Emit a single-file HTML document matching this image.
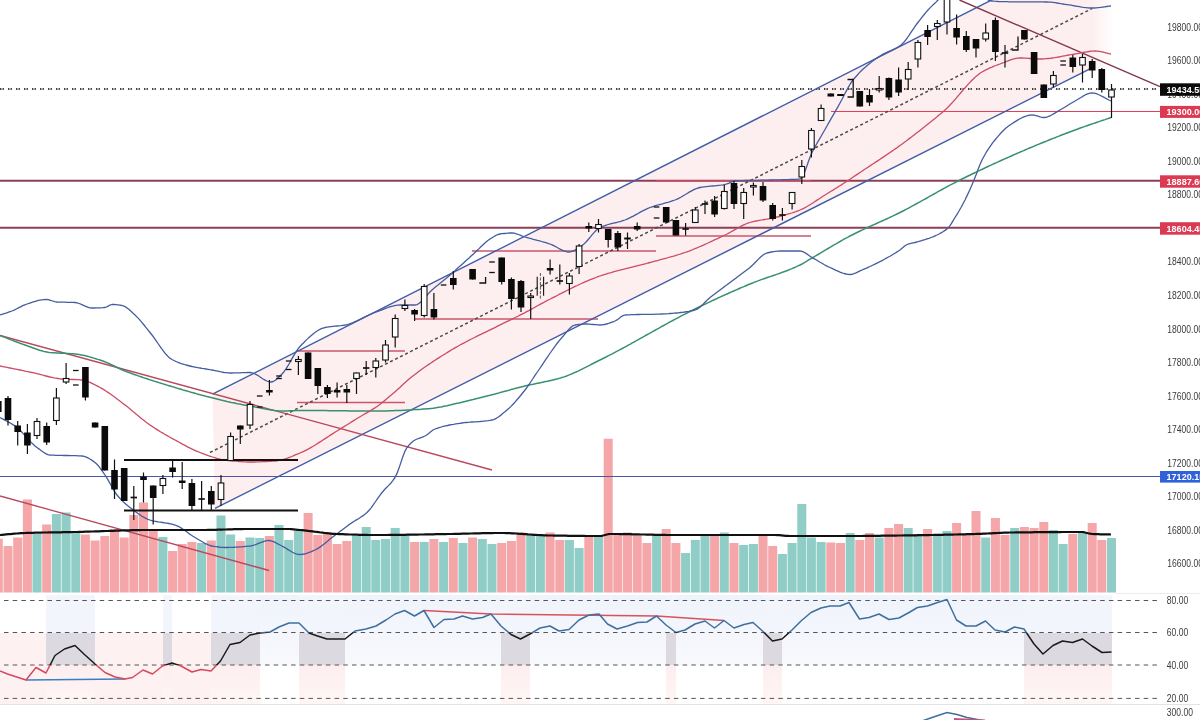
<!DOCTYPE html>
<html lang="en"><head><meta charset="utf-8"><title>Nifty chart</title>
<style>
html,body{margin:0;padding:0;background:#fff;}
body{width:1200px;height:720px;overflow:hidden;font-family:"Liberation Sans",sans-serif;}
svg{display:block;filter:blur(0.55px);}
text{font-family:"Liberation Sans",sans-serif;}
.ax{font-size:10px;fill:#3a3a3a;}
.bx{font-size:9.5px;fill:#fff;font-weight:bold;}
</style></head><body>
<svg width="1200" height="720" viewBox="0 0 1200 720">
<rect width="1200" height="720" fill="#fff"/>
<polygon points="212.5,394.2 1092,-50.8 1092,67.9 215,508.4" fill="#fdefef"/>
<defs><linearGradient id="gf" x1="0" y1="0" x2="1" y2="0"><stop offset="0" stop-color="#fdefef"/><stop offset="1" stop-color="#fdefef" stop-opacity="0"/></linearGradient></defs>
<polygon points="1092,-10 1114,-10 1114,67.8 1092,67.9" fill="url(#gf)"/>
<defs><linearGradient id="gb" x1="0" y1="0" x2="0" y2="1"><stop offset="0" stop-color="#eff3fb"/><stop offset="1" stop-color="#f8f9fd"/></linearGradient><linearGradient id="gp" x1="0" y1="0" x2="0" y2="1"><stop offset="0" stop-color="#fdeeee"/><stop offset="1" stop-color="#fef6f5"/></linearGradient></defs>
<rect x="0.0" y="632.5" width="46.0" height="71.5" fill="#fdf2f1" shape-rendering="crispEdges"/>
<rect x="46.0" y="595" width="49.0" height="37.5" fill="#f3f5fc" shape-rendering="crispEdges"/>
<rect x="46.0" y="632.5" width="49.0" height="32.5" fill="#dcd9e1" shape-rendering="crispEdges"/>
<rect x="46.0" y="665" width="49.0" height="39" fill="url(#gp)" shape-rendering="crispEdges"/>
<rect x="95.0" y="632.5" width="67.5" height="71.5" fill="#fdf2f1" shape-rendering="crispEdges"/>
<rect x="162.5" y="595" width="9.5" height="37.5" fill="#f3f5fc" shape-rendering="crispEdges"/>
<rect x="162.5" y="632.5" width="9.5" height="32.5" fill="#dcd9e1" shape-rendering="crispEdges"/>
<rect x="162.5" y="665" width="9.5" height="39" fill="url(#gp)" shape-rendering="crispEdges"/>
<rect x="172.0" y="632.5" width="39.0" height="71.5" fill="#fdf2f1" shape-rendering="crispEdges"/>
<rect x="211.0" y="595" width="49.0" height="37.5" fill="#f3f5fc" shape-rendering="crispEdges"/>
<rect x="211.0" y="632.5" width="49.0" height="32.5" fill="#dcd9e1" shape-rendering="crispEdges"/>
<rect x="211.0" y="665" width="49.0" height="39" fill="url(#gp)" shape-rendering="crispEdges"/>
<rect x="260.0" y="595" width="39.0" height="70" fill="url(#gb)" shape-rendering="crispEdges"/>
<rect x="299.0" y="595" width="46.0" height="37.5" fill="#f3f5fc" shape-rendering="crispEdges"/>
<rect x="299.0" y="632.5" width="46.0" height="32.5" fill="#dcd9e1" shape-rendering="crispEdges"/>
<rect x="299.0" y="665" width="46.0" height="39" fill="url(#gp)" shape-rendering="crispEdges"/>
<rect x="345.0" y="595" width="156.0" height="70" fill="url(#gb)" shape-rendering="crispEdges"/>
<rect x="501.0" y="595" width="29.0" height="37.5" fill="#f3f5fc" shape-rendering="crispEdges"/>
<rect x="501.0" y="632.5" width="29.0" height="32.5" fill="#dcd9e1" shape-rendering="crispEdges"/>
<rect x="501.0" y="665" width="29.0" height="39" fill="url(#gp)" shape-rendering="crispEdges"/>
<rect x="530.0" y="595" width="136.0" height="70" fill="url(#gb)" shape-rendering="crispEdges"/>
<rect x="666.0" y="595" width="10.0" height="37.5" fill="#f3f5fc" shape-rendering="crispEdges"/>
<rect x="666.0" y="632.5" width="10.0" height="32.5" fill="#dcd9e1" shape-rendering="crispEdges"/>
<rect x="666.0" y="665" width="10.0" height="39" fill="url(#gp)" shape-rendering="crispEdges"/>
<rect x="676.0" y="595" width="86.5" height="70" fill="url(#gb)" shape-rendering="crispEdges"/>
<rect x="762.5" y="595" width="19.5" height="37.5" fill="#f3f5fc" shape-rendering="crispEdges"/>
<rect x="762.5" y="632.5" width="19.5" height="32.5" fill="#dcd9e1" shape-rendering="crispEdges"/>
<rect x="762.5" y="665" width="19.5" height="39" fill="url(#gp)" shape-rendering="crispEdges"/>
<rect x="782.0" y="595" width="242.0" height="70" fill="url(#gb)" shape-rendering="crispEdges"/>
<rect x="1024.0" y="595" width="87.5" height="37.5" fill="#f3f5fc" shape-rendering="crispEdges"/>
<rect x="1024.0" y="632.5" width="87.5" height="32.5" fill="#dcd9e1" shape-rendering="crispEdges"/>
<rect x="1024.0" y="665" width="87.5" height="39" fill="url(#gp)" shape-rendering="crispEdges"/>
<rect x="-6.2" y="538.75" width="9" height="53.8" fill="#f4a6a8"/>
<rect x="3.5" y="546" width="9" height="46.5" fill="#f4a6a8"/>
<rect x="13.2" y="537.5" width="9" height="55.0" fill="#f4a6a8"/>
<rect x="22.9" y="499.5" width="9" height="93.0" fill="#f4a6a8"/>
<rect x="32.5" y="534" width="9" height="58.5" fill="#8fcdc6"/>
<rect x="42.2" y="524.5" width="9" height="68.0" fill="#f4a6a8"/>
<rect x="51.9" y="514" width="9" height="78.5" fill="#8fcdc6"/>
<rect x="61.6" y="512.5" width="9" height="80.0" fill="#8fcdc6"/>
<rect x="71.3" y="533" width="9" height="59.5" fill="#8fcdc6"/>
<rect x="80.9" y="534.5" width="9" height="58.0" fill="#f4a6a8"/>
<rect x="90.6" y="540.5" width="9" height="52.0" fill="#f4a6a8"/>
<rect x="100.3" y="536" width="9" height="56.5" fill="#f4a6a8"/>
<rect x="110.0" y="529" width="9" height="63.5" fill="#f4a6a8"/>
<rect x="119.7" y="537.5" width="9" height="55.0" fill="#f4a6a8"/>
<rect x="129.3" y="515" width="9" height="77.5" fill="#f4a6a8"/>
<rect x="139.0" y="502.5" width="9" height="90.0" fill="#f4a6a8"/>
<rect x="148.7" y="531" width="9" height="61.5" fill="#f4a6a8"/>
<rect x="158.4" y="537" width="9" height="55.5" fill="#8fcdc6"/>
<rect x="168.1" y="551" width="9" height="41.5" fill="#f4a6a8"/>
<rect x="177.7" y="544" width="9" height="48.5" fill="#f4a6a8"/>
<rect x="187.4" y="542" width="9" height="50.5" fill="#f4a6a8"/>
<rect x="197.1" y="543" width="9" height="49.5" fill="#8fcdc6"/>
<rect x="206.8" y="540.5" width="9" height="52.0" fill="#f4a6a8"/>
<rect x="216.5" y="515.5" width="9" height="77.0" fill="#8fcdc6"/>
<rect x="226.1" y="534.5" width="9" height="58.0" fill="#8fcdc6"/>
<rect x="235.8" y="541" width="9" height="51.5" fill="#f4a6a8"/>
<rect x="245.5" y="537.5" width="9" height="55.0" fill="#8fcdc6"/>
<rect x="255.2" y="538" width="9" height="54.5" fill="#8fcdc6"/>
<rect x="264.9" y="536" width="9" height="56.5" fill="#f4a6a8"/>
<rect x="274.5" y="525" width="9" height="67.5" fill="#8fcdc6"/>
<rect x="284.2" y="540" width="9" height="52.5" fill="#8fcdc6"/>
<rect x="293.9" y="531" width="9" height="61.5" fill="#8fcdc6"/>
<rect x="303.6" y="513" width="9" height="79.5" fill="#f4a6a8"/>
<rect x="313.3" y="535" width="9" height="57.5" fill="#f4a6a8"/>
<rect x="322.9" y="532.5" width="9" height="60.0" fill="#f4a6a8"/>
<rect x="332.6" y="544" width="9" height="48.5" fill="#f4a6a8"/>
<rect x="342.3" y="541" width="9" height="51.5" fill="#f4a6a8"/>
<rect x="352.0" y="536" width="9" height="56.5" fill="#8fcdc6"/>
<rect x="361.7" y="527" width="9" height="65.5" fill="#8fcdc6"/>
<rect x="371.3" y="540" width="9" height="52.5" fill="#8fcdc6"/>
<rect x="381.0" y="539" width="9" height="53.5" fill="#8fcdc6"/>
<rect x="390.7" y="528" width="9" height="64.5" fill="#8fcdc6"/>
<rect x="400.4" y="535" width="9" height="57.5" fill="#8fcdc6"/>
<rect x="410.1" y="542" width="9" height="50.5" fill="#f4a6a8"/>
<rect x="419.7" y="542" width="9" height="50.5" fill="#8fcdc6"/>
<rect x="429.4" y="539" width="9" height="53.5" fill="#f4a6a8"/>
<rect x="439.1" y="542" width="9" height="50.5" fill="#8fcdc6"/>
<rect x="448.8" y="538" width="9" height="54.5" fill="#f4a6a8"/>
<rect x="458.5" y="543" width="9" height="49.5" fill="#8fcdc6"/>
<rect x="468.1" y="537.5" width="9" height="55.0" fill="#f4a6a8"/>
<rect x="477.8" y="539" width="9" height="53.5" fill="#8fcdc6"/>
<rect x="487.5" y="544" width="9" height="48.5" fill="#8fcdc6"/>
<rect x="497.2" y="543" width="9" height="49.5" fill="#f4a6a8"/>
<rect x="506.9" y="541" width="9" height="51.5" fill="#f4a6a8"/>
<rect x="516.5" y="532.5" width="9" height="60.0" fill="#f4a6a8"/>
<rect x="526.2" y="535" width="9" height="57.5" fill="#8fcdc6"/>
<rect x="535.9" y="535.5" width="9" height="57.0" fill="#8fcdc6"/>
<rect x="545.6" y="532.5" width="9" height="60.0" fill="#f4a6a8"/>
<rect x="555.3" y="540" width="9" height="52.5" fill="#f4a6a8"/>
<rect x="564.9" y="540" width="9" height="52.5" fill="#8fcdc6"/>
<rect x="574.6" y="548" width="9" height="44.5" fill="#8fcdc6"/>
<rect x="584.3" y="535" width="9" height="57.5" fill="#f4a6a8"/>
<rect x="594.0" y="535.5" width="9" height="57.0" fill="#8fcdc6"/>
<rect x="603.7" y="438.75" width="9" height="153.8" fill="#f4a6a8"/>
<rect x="613.3" y="535" width="9" height="57.5" fill="#f4a6a8"/>
<rect x="623.0" y="532.5" width="9" height="60.0" fill="#f4a6a8"/>
<rect x="632.7" y="535.5" width="9" height="57.0" fill="#f4a6a8"/>
<rect x="642.4" y="543" width="9" height="49.5" fill="#f4a6a8"/>
<rect x="652.1" y="535" width="9" height="57.5" fill="#8fcdc6"/>
<rect x="661.7" y="529" width="9" height="63.5" fill="#f4a6a8"/>
<rect x="671.4" y="543" width="9" height="49.5" fill="#f4a6a8"/>
<rect x="681.1" y="553" width="9" height="39.5" fill="#8fcdc6"/>
<rect x="690.8" y="540" width="9" height="52.5" fill="#8fcdc6"/>
<rect x="700.5" y="536" width="9" height="56.5" fill="#8fcdc6"/>
<rect x="710.1" y="536" width="9" height="56.5" fill="#f4a6a8"/>
<rect x="719.8" y="532.5" width="9" height="60.0" fill="#8fcdc6"/>
<rect x="729.5" y="543" width="9" height="49.5" fill="#f4a6a8"/>
<rect x="739.2" y="545" width="9" height="47.5" fill="#8fcdc6"/>
<rect x="748.9" y="544" width="9" height="48.5" fill="#8fcdc6"/>
<rect x="758.5" y="536" width="9" height="56.5" fill="#f4a6a8"/>
<rect x="768.2" y="546" width="9" height="46.5" fill="#f4a6a8"/>
<rect x="777.9" y="554" width="9" height="38.5" fill="#8fcdc6"/>
<rect x="787.6" y="543" width="9" height="49.5" fill="#8fcdc6"/>
<rect x="797.3" y="504" width="9" height="88.5" fill="#8fcdc6"/>
<rect x="806.9" y="537.5" width="9" height="55.0" fill="#8fcdc6"/>
<rect x="816.6" y="542" width="9" height="50.5" fill="#8fcdc6"/>
<rect x="826.3" y="542.5" width="9" height="50.0" fill="#f4a6a8"/>
<rect x="836.0" y="543" width="9" height="49.5" fill="#f4a6a8"/>
<rect x="845.7" y="533" width="9" height="59.5" fill="#8fcdc6"/>
<rect x="855.3" y="540" width="9" height="52.5" fill="#f4a6a8"/>
<rect x="865.0" y="533" width="9" height="59.5" fill="#f4a6a8"/>
<rect x="874.7" y="537.5" width="9" height="55.0" fill="#8fcdc6"/>
<rect x="884.4" y="528" width="9" height="64.5" fill="#f4a6a8"/>
<rect x="894.1" y="524" width="9" height="68.5" fill="#f4a6a8"/>
<rect x="903.7" y="528" width="9" height="64.5" fill="#8fcdc6"/>
<rect x="913.4" y="534" width="9" height="58.5" fill="#8fcdc6"/>
<rect x="923.1" y="529" width="9" height="63.5" fill="#f4a6a8"/>
<rect x="932.8" y="535.5" width="9" height="57.0" fill="#8fcdc6"/>
<rect x="942.5" y="531" width="9" height="61.5" fill="#8fcdc6"/>
<rect x="952.1" y="523" width="9" height="69.5" fill="#f4a6a8"/>
<rect x="961.8" y="534" width="9" height="58.5" fill="#f4a6a8"/>
<rect x="971.5" y="511" width="9" height="81.5" fill="#f4a6a8"/>
<rect x="981.2" y="537.5" width="9" height="55.0" fill="#8fcdc6"/>
<rect x="990.9" y="518" width="9" height="74.5" fill="#f4a6a8"/>
<rect x="1000.5" y="535" width="9" height="57.5" fill="#f4a6a8"/>
<rect x="1010.2" y="528" width="9" height="64.5" fill="#8fcdc6"/>
<rect x="1019.9" y="527" width="9" height="65.5" fill="#f4a6a8"/>
<rect x="1029.6" y="528" width="9" height="64.5" fill="#f4a6a8"/>
<rect x="1039.3" y="522" width="9" height="70.5" fill="#f4a6a8"/>
<rect x="1048.9" y="530" width="9" height="62.5" fill="#8fcdc6"/>
<rect x="1058.6" y="544" width="9" height="48.5" fill="#8fcdc6"/>
<rect x="1068.3" y="534" width="9" height="58.5" fill="#f4a6a8"/>
<rect x="1078.0" y="532.5" width="9" height="60.0" fill="#8fcdc6"/>
<rect x="1087.7" y="523" width="9" height="69.5" fill="#f4a6a8"/>
<rect x="1097.3" y="540" width="9" height="52.5" fill="#f4a6a8"/>
<rect x="1107.0" y="538" width="9" height="54.5" fill="#8fcdc6"/>
<line x1="0" y1="89" x2="1160" y2="89" stroke="#000" stroke-width="1.3" stroke-dasharray="1.4 1.1 1.4 4.1"/>
<line x1="0" y1="180.8" x2="1160" y2="180.8" stroke="#8d3f58" stroke-width="2"/>
<line x1="0" y1="227.7" x2="1160" y2="227.7" stroke="#8d3f58" stroke-width="2"/>
<line x1="0" y1="476.5" x2="1160" y2="476.5" stroke="#4a55a8" stroke-width="1.2"/>
<line x1="831" y1="111.5" x2="1160" y2="111.5" stroke="#e0405a" stroke-width="1.2"/>
<line x1="297" y1="351" x2="405" y2="351" stroke="#c9566c" stroke-width="1.4"/>
<line x1="297" y1="402.5" x2="405" y2="402.5" stroke="#c9566c" stroke-width="1.4"/>
<line x1="415" y1="319" x2="598" y2="319" stroke="#c9566c" stroke-width="1.4"/>
<line x1="472" y1="251" x2="656" y2="251" stroke="#c9566c" stroke-width="1.4"/>
<line x1="656" y1="236" x2="811" y2="236" stroke="#c9566c" stroke-width="1.4"/>
<line x1="656" y1="181" x2="811" y2="181" stroke="#c9566c" stroke-width="1.4"/>
<line x1="212.5" y1="394.2" x2="1092" y2="-50.8" stroke="#3f5ca6" stroke-width="1.4"/>
<line x1="215" y1="508.4" x2="1092" y2="67.9" stroke="#3f5ca6" stroke-width="1.4"/>
<line x1="210" y1="452.5" x2="1092" y2="8.6" stroke="#4a4a4a" stroke-width="1.5" stroke-dasharray="3 2.6"/>
<line x1="0" y1="335.5" x2="492" y2="470" stroke="#b9475e" stroke-width="1.4"/>
<line x1="0" y1="496" x2="269" y2="570.5" stroke="#b9475e" stroke-width="1.3"/>
<line x1="959.5" y1="0" x2="1160" y2="86.7" stroke="#84364a" stroke-width="1.4"/>
<polyline points="0.0,335.5 2.1,336.3 4.2,337.1 6.2,337.9 8.3,338.7 10.4,339.6 12.5,340.4 14.6,341.2 16.7,342.0 18.8,342.8 20.8,343.5 22.9,344.3 25.0,345.0 27.1,345.7 29.2,346.5 31.2,347.2 33.3,348.0 35.4,348.8 37.5,349.5 39.6,350.2 41.7,350.8 43.8,351.4 45.8,351.8 47.9,352.2 50.0,352.5 52.1,352.7 54.2,352.8 56.2,353.0 58.3,353.1 60.4,353.2 62.5,353.3 64.6,353.3 66.7,353.4 68.8,353.5 70.8,353.7 72.9,353.8 75.0,354.0 77.1,354.2 79.2,354.5 81.2,354.9 83.3,355.3 85.4,355.8 87.5,356.3 89.6,356.9 91.7,357.5 93.8,358.1 95.8,358.7 97.9,359.4 100.0,360.0 102.1,360.7 104.2,361.5 106.2,362.4 108.3,363.3 110.4,364.3 112.5,365.3 114.6,366.3 116.7,367.3 118.8,368.3 120.8,369.3 122.9,370.2 125.0,371.0 127.0,371.8 129.0,372.5 131.0,373.2 133.0,374.0 135.0,374.7 137.0,375.4 139.0,376.1 141.0,376.8 143.0,377.5 145.0,378.1 147.0,378.8 149.0,379.5 151.0,380.1 153.0,380.8 155.0,381.4 157.0,382.0 159.0,382.6 161.0,383.3 163.0,383.9 165.0,384.5 167.0,385.1 169.0,385.7 171.0,386.3 173.0,386.9 175.0,387.5 177.0,388.1 179.0,388.7 181.0,389.3 183.0,389.9 185.0,390.4 187.0,391.0 189.0,391.6 191.0,392.2 193.0,392.7 195.0,393.3 197.0,393.9 199.0,394.4 201.0,395.0 203.0,395.5 205.0,396.0 207.0,396.6 209.0,397.1 211.0,397.6 213.0,398.1 215.0,398.6 217.0,399.1 219.0,399.6 221.0,400.1 223.0,400.5 225.0,401.0 227.1,401.5 229.2,401.9 231.2,402.4 233.3,402.8 235.4,403.2 237.5,403.7 239.6,404.1 241.7,404.5 243.8,404.9 245.8,405.3 247.9,405.6 250.0,406.0 252.1,406.4 254.1,406.8 256.2,407.2 258.2,407.6 260.3,408.0 262.4,408.4 264.4,408.8 266.5,409.2 268.6,409.6 270.6,409.9 272.7,410.2 274.8,410.5 276.8,410.7 278.9,410.9 280.9,411.0 283.0,411.0 285.1,411.0 287.2,410.9 289.4,410.8 291.5,410.8 293.6,410.7 295.8,410.6 297.9,410.5 300.0,410.5 302.0,410.5 304.1,410.5 306.1,410.5 308.1,410.5 310.1,410.5 312.2,410.5 314.2,410.5 316.2,410.6 318.2,410.6 320.3,410.6 322.3,410.6 324.3,410.6 326.4,410.6 328.4,410.7 330.4,410.7 332.4,410.7 334.5,410.7 336.5,410.7 338.5,410.8 340.5,410.8 342.6,410.8 344.6,410.8 346.6,410.8 348.6,410.9 350.7,410.9 352.7,410.9 354.7,410.9 356.8,410.9 358.8,410.9 360.8,411.0 362.8,411.0 364.9,411.0 366.9,411.0 368.9,411.0 370.9,411.0 373.0,411.0 375.0,411.0 377.0,411.0 379.0,411.0 381.0,411.0 383.0,410.9 385.0,410.9 387.0,410.9 389.0,410.8 391.0,410.7 393.0,410.7 395.0,410.6 397.0,410.5 399.0,410.5 401.0,410.4 403.0,410.3 405.0,410.2 407.0,410.1 409.0,410.0 411.0,409.9 413.0,409.8 415.0,409.6 417.0,409.5 419.0,409.4 421.0,409.3 423.0,409.1 425.0,409.0 427.0,408.8 429.0,408.7 431.0,408.4 433.0,408.2 435.0,407.9 437.0,407.6 439.0,407.2 441.0,406.9 443.0,406.5 445.0,406.1 447.0,405.7 449.0,405.2 451.0,404.8 453.0,404.3 455.0,403.8 457.0,403.3 459.0,402.9 461.0,402.4 463.0,401.9 465.0,401.4 467.0,400.9 469.0,400.4 471.0,399.9 473.0,399.5 475.0,399.0 477.0,398.5 479.0,398.1 481.0,397.6 483.0,397.1 485.0,396.6 487.0,396.1 489.0,395.6 491.0,395.0 493.0,394.5 495.0,394.0 497.0,393.4 499.0,392.9 501.0,392.3 503.0,391.8 505.0,391.2 507.0,390.7 509.0,390.2 511.0,389.6 513.0,389.1 515.0,388.5 517.0,388.0 519.0,387.5 521.0,387.0 523.0,386.5 525.0,386.0 527.1,385.5 529.1,385.0 531.2,384.6 533.2,384.2 535.3,383.7 537.3,383.3 539.4,382.9 541.4,382.5 543.5,382.0 545.6,381.6 547.6,381.2 549.7,380.7 551.7,380.2 553.8,379.7 555.8,379.2 557.9,378.7 559.9,378.1 562.0,377.5 564.0,376.9 566.0,376.2 568.0,375.4 570.0,374.6 572.0,373.8 574.0,372.9 576.0,372.0 578.0,371.1 580.0,370.1 582.0,369.1 584.0,368.1 586.0,367.1 588.0,366.1 590.0,365.1 592.0,364.0 594.0,363.0 596.0,362.0 598.0,361.0 600.0,360.0 602.0,359.0 604.0,358.0 606.1,357.0 608.1,355.9 610.1,354.9 612.1,353.9 614.1,352.8 616.2,351.7 618.2,350.7 620.2,349.6 622.2,348.5 624.3,347.4 626.3,346.3 628.3,345.2 630.3,344.1 632.3,342.9 634.4,341.8 636.4,340.7 638.4,339.6 640.4,338.4 642.4,337.3 644.5,336.2 646.5,335.0 648.5,333.9 650.5,332.8 652.6,331.6 654.6,330.5 656.6,329.4 658.6,328.3 660.6,327.1 662.7,326.0 664.7,324.9 666.7,323.8 668.7,322.7 670.7,321.6 672.8,320.5 674.8,319.4 676.8,318.3 678.8,317.3 680.9,316.2 682.9,315.1 684.9,314.1 686.9,313.0 688.9,312.0 691.0,311.0 693.0,310.0 695.0,309.0 697.0,308.0 699.1,307.0 701.1,306.0 703.1,305.1 705.2,304.1 707.2,303.1 709.3,302.1 711.3,301.2 713.3,300.2 715.4,299.3 717.4,298.3 719.4,297.4 721.5,296.4 723.5,295.5 725.6,294.6 727.6,293.7 729.6,292.8 731.7,291.9 733.7,291.0 735.7,290.1 737.8,289.2 739.8,288.3 741.9,287.4 743.9,286.6 745.9,285.7 748.0,284.8 750.0,284.0 752.0,283.2 754.0,282.4 756.0,281.6 758.0,280.9 760.0,280.1 762.0,279.4 764.0,278.7 766.0,278.0 768.0,277.3 770.0,276.6 772.0,276.0 774.0,275.3 776.0,274.6 778.0,273.9 780.0,273.2 782.0,272.4 784.0,271.7 786.0,271.0 788.0,270.2 790.0,269.4 792.0,268.6 794.0,267.7 796.0,266.9 798.0,265.9 800.0,265.0 802.0,264.0 804.0,262.8 806.0,261.7 808.0,260.4 810.0,259.2 812.0,258.0 814.0,256.8 816.0,255.7 818.0,254.5 820.0,253.3 822.0,252.1 824.0,250.9 826.0,249.7 828.0,248.5 830.0,247.3 832.0,246.1 834.0,244.9 836.0,243.8 838.0,242.6 840.0,241.5 842.0,240.3 844.0,239.2 846.0,238.1 848.0,237.1 850.0,236.0 852.0,235.0 854.0,234.0 856.0,233.0 858.0,232.0 860.0,231.0 862.0,230.1 864.0,229.1 866.0,228.2 868.0,227.3 870.0,226.4 872.0,225.5 874.0,224.6 876.0,223.7 878.0,222.8 880.0,221.9 882.0,221.0 884.0,220.1 886.0,219.2 888.0,218.3 890.0,217.3 892.0,216.4 894.0,215.4 896.0,214.5 898.0,213.5 900.0,212.5 902.0,211.5 904.0,210.5 906.0,209.4 908.0,208.4 910.0,207.3 912.0,206.2 914.0,205.1 916.0,204.0 918.0,202.9 920.0,201.8 922.0,200.7 924.0,199.6 926.0,198.5 928.0,197.3 930.0,196.2 932.0,195.1 934.0,194.0 936.0,192.9 938.0,191.7 940.0,190.6 942.0,189.5 944.0,188.4 946.0,187.3 948.0,186.2 950.0,185.2 952.0,184.1 954.0,183.1 956.0,182.0 958.0,181.0 960.0,180.0 962.0,179.0 964.1,178.0 966.1,177.0 968.1,176.0 970.2,175.0 972.2,174.0 974.2,173.0 976.2,172.1 978.3,171.1 980.3,170.1 982.3,169.2 984.4,168.2 986.4,167.2 988.4,166.3 990.5,165.4 992.5,164.4 994.5,163.5 996.6,162.6 998.6,161.6 1000.6,160.7 1002.7,159.8 1004.7,158.9 1006.7,158.0 1008.8,157.1 1010.8,156.2 1012.8,155.3 1014.8,154.4 1016.9,153.5 1018.9,152.6 1020.9,151.7 1023.0,150.9 1025.0,150.0 1027.0,149.1 1029.0,148.3 1031.0,147.5 1033.0,146.6 1035.0,145.8 1037.0,144.9 1039.0,144.1 1041.0,143.3 1043.0,142.5 1045.0,141.7 1047.0,140.9 1049.0,140.0 1051.0,139.2 1053.0,138.4 1055.0,137.7 1057.0,136.9 1059.0,136.1 1061.0,135.3 1063.0,134.5 1065.0,133.8 1067.0,133.0 1069.0,132.2 1071.0,131.5 1073.0,130.7 1075.0,130.0 1077.0,129.3 1079.0,128.5 1081.0,127.8 1083.0,127.1 1085.0,126.4 1087.0,125.7 1089.0,125.0 1091.0,124.3 1093.0,123.6 1095.0,123.0 1097.0,122.3 1099.0,121.6 1101.0,120.9 1103.0,120.2 1105.0,119.6 1107.0,118.9 1109.0,118.2 1111.0,117.5" fill="none" stroke="#37906f" stroke-width="1.5" stroke-linejoin="round"/>
<polyline points="0.0,366.0 2.0,366.4 4.0,366.8 6.0,367.2 8.0,367.6 10.0,368.0 12.0,368.4 14.0,368.8 16.0,369.2 18.0,369.6 20.0,370.0 22.0,370.4 24.0,370.8 26.0,371.3 28.0,371.7 30.0,372.1 32.0,372.5 34.0,372.9 36.0,373.4 38.0,373.9 40.0,374.4 42.0,374.9 44.0,375.5 46.0,376.0 48.0,376.5 50.0,377.0 52.0,377.4 54.0,377.9 56.0,378.2 58.0,378.5 60.0,378.8 62.0,379.0 64.0,379.1 66.0,379.2 68.0,379.3 70.0,379.4 72.0,379.5 74.0,379.5 76.0,379.6 78.0,379.7 80.0,379.8 82.0,380.0 84.0,380.3 86.0,380.8 88.0,381.5 90.0,382.3 92.0,383.3 94.0,384.3 96.0,385.4 98.0,386.4 100.0,387.5 102.1,388.6 104.2,389.9 106.2,391.2 108.3,392.6 110.4,394.0 112.5,395.5 114.6,397.1 116.7,398.7 118.8,400.2 120.8,401.8 122.9,403.4 125.0,405.0 127.1,406.6 129.2,408.2 131.2,409.9 133.3,411.7 135.4,413.4 137.5,415.2 139.6,416.9 141.7,418.7 143.8,420.3 145.8,422.0 147.9,423.5 150.0,425.0 152.1,426.4 154.2,427.8 156.2,429.1 158.3,430.4 160.4,431.7 162.5,432.9 164.6,434.2 166.7,435.4 168.8,436.5 170.8,437.7 172.9,438.9 175.0,440.0 177.1,441.1 179.2,442.3 181.2,443.4 183.3,444.6 185.4,445.7 187.5,446.8 189.6,447.8 191.7,448.9 193.8,449.9 195.8,450.8 197.9,451.7 200.0,452.5 202.1,453.3 204.2,454.1 206.2,454.8 208.3,455.6 210.4,456.3 212.5,457.0 214.6,457.7 216.7,458.3 218.8,458.8 220.8,459.3 222.9,459.7 225.0,460.0 227.1,460.3 229.2,460.5 231.2,460.8 233.3,461.0 235.4,461.2 237.5,461.4 239.6,461.6 241.7,461.7 243.8,461.8 245.8,461.9 247.9,462.0 250.0,462.0 252.1,462.0 254.2,462.0 256.2,461.9 258.3,461.9 260.4,461.8 262.5,461.7 264.6,461.6 266.7,461.5 268.8,461.4 270.8,461.3 272.9,461.1 275.0,461.0 277.1,460.8 279.2,460.4 281.2,460.0 283.3,459.4 285.4,458.8 287.5,458.1 289.6,457.3 291.7,456.5 293.8,455.6 295.8,454.7 297.9,453.9 300.0,453.0 302.1,452.1 304.1,451.2 306.2,450.1 308.2,449.1 310.3,447.9 312.3,446.7 314.4,445.5 316.4,444.2 318.5,442.9 320.6,441.6 322.6,440.3 324.7,438.9 326.7,437.6 328.8,436.2 330.8,434.9 332.9,433.6 334.9,432.3 337.0,431.0 339.1,429.7 341.2,428.4 343.3,427.1 345.4,425.8 347.5,424.5 349.5,423.2 351.6,421.9 353.7,420.6 355.8,419.3 357.9,418.0 360.0,416.7 362.1,415.5 364.2,414.2 366.3,413.1 368.4,411.9 370.4,410.7 372.5,409.4 374.6,408.1 376.7,406.7 378.8,405.2 380.9,403.7 382.9,402.0 385.0,400.3 387.1,398.6 389.1,396.8 391.2,395.1 393.3,393.3 395.4,391.5 397.5,389.6 399.6,387.7 401.6,385.7 403.7,383.8 405.8,381.9 407.9,380.1 410.0,378.3 412.1,376.6 414.2,375.0 416.3,373.4 418.4,371.8 420.4,370.3 422.5,368.7 424.6,367.3 426.7,365.8 428.8,364.4 430.9,363.0 432.9,361.6 435.0,360.2 437.1,358.9 439.1,357.6 441.2,356.3 443.3,355.0 445.4,353.7 447.5,352.4 449.6,351.1 451.6,349.8 453.7,348.6 455.8,347.4 457.9,346.2 460.0,345.0 462.1,343.9 464.2,342.8 466.2,341.7 468.3,340.6 470.4,339.5 472.5,338.5 474.6,337.5 476.6,336.4 478.7,335.4 480.8,334.4 482.9,333.4 485.0,332.4 487.1,331.4 489.1,330.4 491.2,329.3 493.3,328.3 495.4,327.3 497.5,326.2 499.6,325.2 501.7,324.2 503.7,323.2 505.8,322.1 507.9,321.1 510.0,320.1 512.1,319.1 514.2,318.0 516.3,317.0 518.4,316.0 520.4,314.9 522.5,313.8 524.6,312.8 526.7,311.7 528.9,310.6 531.0,309.4 533.2,308.2 535.3,307.0 537.5,305.8 539.7,304.6 541.8,303.4 544.0,302.3 546.1,301.1 548.3,300.0 550.4,299.0 552.4,297.9 554.5,296.8 556.6,295.8 558.6,294.7 560.7,293.7 562.8,292.6 564.8,291.6 566.9,290.5 569.0,289.5 571.0,288.5 573.1,287.4 575.2,286.4 577.3,285.5 579.3,284.5 581.4,283.5 583.5,282.6 585.5,281.7 587.6,280.8 589.7,279.9 591.7,279.1 593.8,278.3 595.9,277.5 597.9,276.7 600.0,276.0 602.0,275.3 604.0,274.7 606.0,274.1 608.0,273.4 610.0,272.9 612.0,272.3 614.0,271.7 616.0,271.2 618.0,270.7 620.0,270.1 622.0,269.6 624.0,269.1 626.0,268.6 628.0,268.1 630.0,267.6 632.0,267.1 634.0,266.6 636.0,266.1 638.0,265.6 640.0,265.1 642.0,264.6 644.0,264.1 646.0,263.6 648.0,263.0 650.0,262.5 652.1,261.9 654.1,261.4 656.2,260.8 658.2,260.3 660.3,259.7 662.4,259.2 664.4,258.6 666.5,258.1 668.5,257.5 670.6,256.9 672.6,256.4 674.7,255.8 676.8,255.1 678.8,254.5 680.9,253.9 682.9,253.2 685.0,252.5 687.0,251.8 689.0,251.1 691.0,250.3 693.0,249.5 695.0,248.7 697.0,247.9 699.0,247.0 701.0,246.2 703.0,245.3 705.0,244.4 707.0,243.5 709.0,242.5 711.0,241.6 713.0,240.7 715.0,239.7 717.0,238.8 719.0,237.8 721.0,236.9 723.0,235.9 725.0,235.0 727.1,234.0 729.2,232.9 731.2,231.7 733.3,230.6 735.4,229.4 737.5,228.2 739.6,227.0 741.7,225.9 743.8,224.9 745.8,224.0 747.9,223.2 750.0,222.5 752.1,221.9 754.2,221.4 756.2,221.0 758.3,220.6 760.4,220.2 762.5,219.9 764.6,219.5 766.7,219.2 768.8,218.8 770.8,218.4 772.9,218.0 775.0,217.5 777.1,217.0 779.2,216.5 781.2,216.0 783.3,215.4 785.4,214.8 787.5,214.2 789.6,213.6 791.7,213.0 793.8,212.3 795.8,211.6 797.9,210.8 800.0,210.0 802.1,209.1 804.2,208.1 806.2,207.0 808.3,205.8 810.4,204.5 812.5,203.2 814.6,201.8 816.7,200.4 818.8,199.0 820.8,197.7 822.9,196.3 825.0,195.0 827.0,193.8 829.0,192.5 831.0,191.3 833.0,190.1 835.0,188.8 837.0,187.6 839.0,186.3 841.0,185.1 843.0,183.8 845.0,182.5 847.1,181.1 849.3,179.7 851.4,178.3 853.6,176.8 855.7,175.4 857.9,173.9 860.0,172.5 862.0,171.2 864.0,169.8 866.0,168.5 868.0,167.2 870.0,165.9 872.0,164.5 874.0,163.2 876.0,161.9 878.0,160.6 880.0,159.3 882.0,157.9 884.0,156.6 886.0,155.2 888.0,153.9 890.0,152.5 892.0,151.1 894.0,149.8 896.0,148.4 898.0,146.9 900.0,145.5 902.1,144.0 904.1,142.5 906.2,141.0 908.2,139.4 910.3,137.9 912.4,136.3 914.4,134.7 916.5,133.1 918.6,131.5 920.6,129.9 922.7,128.2 924.8,126.6 926.8,125.0 928.9,123.3 930.9,121.7 933.0,120.0 935.0,118.4 937.0,116.8 939.0,115.1 941.0,113.5 943.0,111.8 945.0,110.0 947.1,108.1 949.1,106.0 951.2,103.8 953.2,101.6 955.3,99.2 957.3,96.8 959.4,94.4 961.4,92.0 963.5,89.6 965.6,87.2 967.6,84.9 969.7,82.6 971.7,80.5 973.8,78.5 975.8,76.6 977.9,74.9 979.9,73.3 982.0,72.0 984.0,70.9 986.0,69.8 988.0,68.8 990.0,67.9 992.0,67.1 994.0,66.2 996.0,65.5 998.0,64.7 1000.0,64.0 1002.0,63.2 1004.0,62.5 1006.0,61.6 1008.0,60.9 1010.0,60.1 1012.0,59.4 1014.0,58.8 1016.0,58.4 1018.0,58.1 1020.0,58.0 1022.0,58.0 1024.0,58.1 1026.0,58.2 1028.0,58.4 1030.0,58.5 1032.0,58.6 1034.0,58.8 1036.0,58.9 1038.0,59.0 1040.0,59.0 1042.1,59.0 1044.1,58.9 1046.2,58.7 1048.2,58.5 1050.3,58.3 1052.4,58.0 1054.4,57.7 1056.5,57.3 1058.5,57.0 1060.6,56.6 1062.6,56.2 1064.7,55.8 1066.8,55.4 1068.8,55.0 1070.9,54.7 1072.9,54.3 1075.0,54.0 1077.0,53.7 1079.0,53.3 1081.0,52.9 1083.0,52.5 1085.0,52.1 1087.0,51.8 1089.0,51.5 1091.0,51.2 1093.0,51.1 1095.0,51.0 1097.0,51.1 1099.0,51.3 1101.0,51.7 1103.0,52.1 1105.0,52.6 1107.0,53.1 1109.0,53.6 1111.0,54.0" fill="none" stroke="#cc4c64" stroke-width="1.3" stroke-linejoin="round"/>
<polyline points="0.0,315.0 2.0,314.3 4.0,313.7 6.0,313.1 8.0,312.4 10.0,311.7 12.0,311.0 14.1,310.1 16.3,309.0 18.4,307.9 20.6,306.8 22.7,305.7 24.9,304.8 27.0,304.0 29.1,303.3 31.2,302.6 33.3,301.9 35.4,301.3 37.6,300.7 39.7,300.2 41.8,299.8 43.9,299.6 46.0,299.5 48.2,299.7 50.4,300.3 52.6,301.0 54.8,301.7 57.0,302.0 59.0,302.1 61.0,302.2 63.0,302.2 65.0,302.2 67.0,302.3 69.0,302.3 71.0,302.3 73.0,302.4 75.0,302.5 77.1,302.8 79.2,303.5 81.4,304.4 83.5,305.4 85.6,306.3 87.8,307.2 89.9,307.8 92.0,308.0 94.2,308.0 96.3,307.9 98.5,307.9 100.7,307.8 102.8,307.7 105.0,307.5 107.3,306.6 109.7,305.2 112.0,304.5 114.0,304.5 116.0,304.7 118.0,304.9 120.0,305.2 122.0,305.5 124.2,306.2 126.3,307.4 128.5,309.1 130.7,311.0 132.8,313.0 135.0,315.0 137.1,317.1 139.3,319.4 141.4,321.9 143.6,324.5 145.7,327.2 147.9,329.9 150.0,332.5 152.0,335.0 154.0,337.7 156.0,340.6 158.0,343.5 160.0,346.4 162.0,349.2 164.0,351.8 166.0,354.3 168.0,356.4 170.0,358.2 172.0,359.5 174.0,360.5 176.0,361.5 178.0,362.3 180.0,363.1 182.0,363.8 184.0,364.4 186.0,365.0 188.0,365.5 190.0,366.0 192.0,366.5 194.0,366.9 196.0,367.3 198.0,367.7 200.0,368.0 202.0,368.4 204.0,368.7 206.0,369.0 208.0,369.3 210.0,369.7 212.0,370.0 214.0,370.4 216.0,370.8 218.0,371.2 220.0,371.7 222.0,372.1 224.0,372.5 226.0,372.7 228.0,372.9 230.0,373.0 232.0,373.0 234.0,372.9 236.0,372.9 238.0,372.8 240.0,372.8 242.0,372.7 244.0,372.6 246.0,372.6 248.0,372.5 250.0,372.5 252.1,372.8 254.2,373.5 256.3,374.6 258.4,375.8 260.5,377.2 262.6,378.7 264.7,379.9 266.8,381.0 268.9,381.7 271.0,382.0 273.2,381.5 275.4,380.2 277.6,378.3 279.8,376.2 282.0,374.0 284.0,371.7 286.0,368.9 288.0,365.7 290.0,362.2 292.0,358.6 294.0,355.1 296.0,351.8 298.0,348.9 300.0,346.5 302.1,344.3 304.2,342.2 306.2,340.1 308.3,338.1 310.4,336.2 312.5,334.4 314.6,332.8 316.7,331.3 318.8,330.0 320.8,328.9 322.9,328.1 325.0,327.5 327.0,327.1 329.0,326.8 331.0,326.6 333.0,326.4 335.0,326.2 337.0,326.0 339.0,325.8 341.0,325.6 343.0,325.3 345.0,325.0 347.0,324.6 349.0,324.0 351.0,323.3 353.0,322.6 355.0,321.7 357.0,320.8 359.0,319.8 361.0,318.9 363.0,317.9 365.0,316.9 367.0,315.9 369.0,315.0 371.0,314.1 373.0,313.2 375.0,312.5 377.1,311.7 379.2,310.9 381.2,310.1 383.3,309.3 385.4,308.4 387.5,307.7 389.6,306.9 391.7,306.3 393.8,305.8 395.8,305.4 397.9,305.1 400.0,305.0 402.1,305.0 404.3,305.0 406.4,305.0 408.6,305.0 410.7,305.0 412.9,305.0 415.0,305.0 417.1,304.6 419.2,303.3 421.4,301.5 423.5,299.3 425.6,296.9 427.8,294.4 429.9,292.0 432.0,290.0 434.0,288.3 436.0,286.6 438.0,285.0 440.0,283.3 442.0,281.7 444.0,280.0 446.0,278.4 448.0,276.7 450.0,275.0 452.1,273.2 454.2,271.4 456.2,269.5 458.3,267.6 460.4,265.8 462.5,263.9 464.6,262.0 466.7,260.1 468.8,258.2 470.8,256.3 472.9,254.4 475.0,252.5 477.1,250.5 479.3,248.4 481.4,246.3 483.6,244.2 485.7,242.3 487.9,240.5 490.0,239.0 492.0,237.7 494.0,236.5 496.0,235.4 498.0,234.5 500.0,234.0 502.0,233.7 504.0,233.5 506.0,233.3 508.0,233.1 510.0,233.0 512.0,233.0 514.2,233.2 516.3,233.8 518.5,234.5 520.7,235.4 522.8,236.3 525.0,237.0 527.1,237.6 529.2,238.2 531.2,238.7 533.3,239.3 535.4,239.8 537.5,240.4 539.6,240.9 541.7,241.5 543.8,242.1 545.8,242.7 547.9,243.3 550.0,244.0 552.1,244.8 554.2,245.9 556.3,247.0 558.4,248.2 560.6,249.4 562.7,250.4 564.8,251.2 566.9,251.8 569.0,252.0 571.2,251.7 573.3,250.9 575.5,249.8 577.7,248.4 579.8,247.0 582.0,245.5 584.0,243.9 586.0,242.0 588.0,239.7 590.0,237.3 592.0,234.9 594.0,232.6 596.0,230.5 598.0,228.7 600.0,227.5 602.1,226.6 604.2,225.8 606.2,225.1 608.3,224.5 610.4,223.9 612.5,223.4 614.6,222.9 616.7,222.5 618.8,221.9 620.8,221.4 622.9,220.7 625.0,220.0 627.1,219.2 629.2,218.2 631.2,217.2 633.3,216.1 635.4,214.9 637.5,213.8 639.6,212.6 641.7,211.4 643.8,210.3 645.8,209.3 647.9,208.3 650.0,207.5 652.1,206.8 654.2,206.1 656.2,205.4 658.3,204.9 660.4,204.3 662.5,203.8 664.6,203.2 666.7,202.6 668.8,202.1 670.8,201.4 672.9,200.7 675.0,200.0 677.1,199.1 679.2,198.1 681.2,197.0 683.3,195.7 685.4,194.5 687.5,193.2 689.6,191.9 691.7,190.8 693.8,189.7 695.8,188.8 697.9,188.0 700.0,187.5 702.1,187.1 704.2,186.8 706.2,186.6 708.3,186.4 710.4,186.2 712.5,186.0 714.6,185.8 716.7,185.6 718.8,185.4 720.8,185.2 722.9,184.9 725.0,184.5 727.0,183.9 729.0,183.1 731.0,182.1 733.0,181.4 735.0,181.0 737.1,180.9 739.1,180.8 741.2,180.7 743.2,180.6 745.3,180.5 747.4,180.5 749.4,180.4 751.5,180.4 753.5,180.3 755.6,180.3 757.6,180.3 759.7,180.2 761.8,180.2 763.8,180.2 765.9,180.1 767.9,180.1 770.0,180.0 772.0,179.9 774.0,179.9 776.0,179.9 778.0,179.8 780.0,179.8 782.0,179.7 784.0,179.7 786.0,179.6 788.0,179.6 790.0,179.5 792.0,179.5 794.0,179.4 796.0,179.3 798.0,179.1 800.0,179.0 802.0,177.5 804.0,173.7 806.0,168.6 808.0,162.8 810.0,157.2 812.0,152.5 814.2,148.4 816.3,144.5 818.5,140.7 820.7,137.0 822.8,133.3 825.0,129.5 827.1,125.7 829.3,121.9 831.4,118.1 833.6,114.4 835.7,110.6 837.9,106.8 840.0,103.0 842.2,99.0 844.3,94.8 846.5,90.6 848.7,86.6 850.8,83.0 853.0,80.0 855.1,77.5 857.2,75.2 859.2,72.9 861.3,70.8 863.4,68.8 865.5,67.0 867.5,65.2 869.6,63.5 871.7,61.8 873.8,60.3 875.8,58.8 877.9,57.4 880.0,56.0 882.1,54.7 884.2,53.6 886.3,52.6 888.4,51.7 890.5,50.8 892.6,49.9 894.7,48.9 896.8,47.8 898.9,46.5 901.0,45.0 903.1,43.1 905.1,40.8 907.2,38.0 909.2,35.1 911.3,31.9 913.4,28.8 915.4,25.8 917.5,23.0 919.6,20.3 921.7,17.6 923.8,15.0 925.9,12.4 928.0,10.0 930.0,7.9 932.0,5.9 934.0,4.0 936.0,2.1 938.0,0.0 940.3,-3.1 942.7,-6.3 945.0,-8.0 947.1,-8.4 949.2,-8.7 951.2,-8.9 953.3,-9.2 955.4,-9.4 957.5,-9.6 959.6,-9.7 961.7,-9.8 963.8,-9.9 965.8,-10.0 967.9,-10.0 970.0,-10.0 972.0,-9.8 974.0,-9.1 976.0,-8.1 978.0,-6.9 980.0,-5.5 982.0,-4.0 984.0,-2.6 986.0,-1.3 988.0,-0.2 990.0,0.6 992.0,1.0 994.2,1.2 996.3,1.3 998.5,1.5 1000.7,1.6 1002.8,1.7 1005.0,1.7 1007.0,1.7 1009.0,1.8 1011.0,1.8 1013.0,1.8 1015.0,1.8 1017.0,1.8 1019.0,1.8 1021.0,1.8 1023.0,1.8 1025.0,1.8 1027.0,1.9 1029.0,1.9 1031.0,1.9 1033.0,1.9 1035.0,1.9 1037.0,1.9 1039.0,1.9 1041.0,1.9 1043.0,1.9 1045.0,2.0 1047.0,2.0 1049.0,2.1 1051.0,2.2 1053.0,2.4 1055.0,2.7 1057.0,3.0 1059.0,3.3 1061.0,3.7 1063.0,4.0 1065.0,4.3 1067.0,4.6 1069.1,4.9 1071.2,5.2 1073.2,5.6 1075.3,6.0 1077.4,6.3 1079.5,6.7 1081.6,7.1 1083.7,7.4 1085.8,7.6 1087.8,7.8 1089.9,8.0 1092.0,8.0 1094.1,8.0 1096.2,7.8 1098.3,7.6 1100.4,7.4 1102.6,7.1 1104.7,6.8 1106.8,6.5 1108.9,6.2 1111.0,6.0" fill="none" stroke="#455c9f" stroke-width="1.3" stroke-linejoin="round"/>
<polyline points="0.0,417.5 2.1,418.7 4.3,419.8 6.4,420.9 8.6,422.1 10.7,423.3 12.9,424.6 15.0,426.0 17.0,427.5 19.0,429.3 21.0,431.3 23.0,433.4 25.0,435.6 27.0,437.8 29.0,440.0 31.0,442.2 33.0,444.1 35.0,445.9 37.0,447.5 39.2,449.1 41.3,450.7 43.5,452.3 45.7,453.6 47.8,454.6 50.0,455.0 52.0,455.1 54.0,455.2 56.0,455.3 58.0,455.4 60.0,455.4 62.0,455.4 64.0,455.5 66.0,455.5 68.0,455.5 70.0,455.6 72.0,455.6 74.0,455.6 76.0,455.7 78.0,455.8 80.0,455.9 82.0,456.0 84.2,456.4 86.3,457.1 88.5,458.2 90.7,459.5 92.8,460.9 95.0,462.5 97.0,464.3 99.0,466.6 101.0,469.3 103.0,472.1 105.0,475.0 107.0,478.1 109.0,481.6 111.0,485.3 113.0,488.9 115.0,492.2 117.0,495.0 119.2,497.5 121.3,499.9 123.5,502.0 125.7,504.0 127.8,505.8 130.0,507.5 132.0,509.0 134.0,510.6 136.0,512.1 138.0,513.5 140.0,514.9 142.0,516.2 144.0,517.4 146.0,518.4 148.0,519.3 150.0,520.0 152.1,520.6 154.2,521.1 156.2,521.5 158.3,521.9 160.4,522.2 162.5,522.5 164.6,522.8 166.7,523.1 168.8,523.5 170.8,523.9 172.9,524.4 175.0,525.0 177.0,525.8 179.0,526.7 181.0,527.9 183.0,529.2 185.0,530.6 187.0,532.1 189.0,533.6 191.0,535.0 193.0,536.3 195.0,537.5 197.1,538.7 199.2,540.0 201.4,541.3 203.5,542.5 205.6,543.7 207.8,544.7 209.9,545.5 212.0,546.0 214.2,546.4 216.3,546.7 218.5,547.0 220.7,547.3 222.8,547.4 225.0,547.5 227.1,547.5 229.2,547.4 231.2,547.4 233.3,547.3 235.4,547.2 237.5,547.1 239.6,546.9 241.7,546.8 243.8,546.6 245.8,546.4 247.9,546.2 250.0,546.0 252.1,545.6 254.2,545.0 256.3,544.3 258.4,543.4 260.6,542.6 262.7,541.8 264.8,541.1 266.9,540.7 269.0,540.5 271.2,540.8 273.4,541.6 275.6,542.7 277.8,543.9 280.0,545.0 282.0,546.0 284.0,547.1 286.0,548.3 288.0,549.6 290.0,550.8 292.0,552.0 294.0,553.0 296.0,553.8 298.0,554.3 300.0,554.5 302.1,554.4 304.3,554.0 306.4,553.4 308.6,552.7 310.7,551.8 312.9,550.9 315.0,550.0 317.1,548.9 319.2,547.6 321.4,546.1 323.5,544.4 325.6,542.7 327.8,540.9 329.9,539.1 332.0,537.5 334.0,536.0 336.0,534.5 338.0,533.0 340.0,531.4 342.0,529.9 344.0,528.4 346.0,526.9 348.0,525.4 350.0,524.0 352.1,522.6 354.2,521.2 356.4,519.9 358.5,518.7 360.6,517.3 362.8,515.9 364.9,514.3 367.0,512.5 369.1,510.3 371.3,507.6 373.4,504.7 375.6,501.5 377.7,498.4 379.9,495.3 382.0,492.5 384.2,490.0 386.3,487.8 388.5,485.6 390.7,483.3 392.8,480.6 395.0,477.5 397.0,473.4 399.0,468.1 401.0,462.1 403.0,456.2 405.0,451.1 407.0,447.5 409.0,445.1 411.0,443.0 413.0,441.3 415.0,440.0 417.0,439.0 419.0,438.3 421.0,437.6 423.0,436.9 425.0,436.0 427.0,434.7 429.0,433.2 431.0,431.5 433.0,430.0 435.0,429.0 437.1,428.3 439.2,427.6 441.2,427.0 443.3,426.4 445.4,425.9 447.5,425.5 449.5,425.0 451.6,424.6 453.7,424.3 455.8,423.9 457.8,423.6 459.9,423.3 462.0,423.0 464.0,422.7 466.0,422.5 468.0,422.3 470.0,422.2 472.0,422.0 474.0,421.9 476.0,421.8 478.0,421.6 480.0,421.5 482.0,421.3 484.0,421.1 486.0,420.9 488.0,420.7 490.0,420.4 492.0,420.0 494.1,419.4 496.3,418.3 498.4,417.0 500.6,415.4 502.7,413.6 504.9,411.8 507.0,410.0 509.0,408.3 511.0,406.4 513.0,404.3 515.0,402.1 517.0,399.8 519.0,397.5 521.0,395.0 523.0,392.5 525.0,390.0 527.0,387.3 529.0,384.5 531.0,381.5 533.0,378.5 535.0,375.4 537.0,372.5 539.1,369.5 541.2,366.4 543.2,363.3 545.3,360.2 547.4,357.1 549.5,354.0 551.6,351.0 553.7,348.1 555.8,345.2 557.8,342.5 559.9,339.9 562.0,337.5 564.2,334.9 566.3,332.3 568.5,329.7 570.7,327.5 572.8,325.8 575.0,325.0 577.0,324.7 579.0,324.5 581.0,324.3 583.0,324.1 585.0,324.0 587.0,324.0 589.2,324.1 591.3,324.3 593.5,324.5 595.7,324.7 597.8,324.9 600.0,325.0 602.1,324.9 604.3,324.5 606.4,324.0 608.6,323.4 610.7,322.6 612.9,321.8 615.0,321.0 617.0,319.9 619.0,318.4 621.0,316.8 623.0,315.6 625.0,315.0 627.1,314.9 629.1,314.8 631.2,314.7 633.2,314.6 635.3,314.6 637.3,314.5 639.4,314.5 641.4,314.4 643.5,314.4 645.6,314.4 647.6,314.4 649.7,314.3 651.7,314.3 653.8,314.3 655.8,314.2 657.9,314.2 659.9,314.1 662.0,314.0 664.1,313.9 666.1,313.8 668.2,313.7 670.2,313.5 672.3,313.4 674.4,313.2 676.4,313.0 678.5,312.8 680.6,312.5 682.6,312.3 684.7,312.0 686.8,311.6 688.8,311.3 690.9,310.9 692.9,310.5 695.0,310.0 697.1,309.1 699.3,307.7 701.4,305.8 703.6,303.7 705.7,301.5 707.9,299.4 710.0,297.5 712.0,295.9 714.0,294.4 716.0,292.9 718.0,291.4 720.0,289.9 722.0,288.4 724.0,286.9 726.0,285.5 728.0,284.0 730.0,282.5 732.0,281.0 734.0,279.5 736.0,278.1 738.0,276.6 740.0,275.1 742.0,273.6 744.0,272.1 746.0,270.6 748.0,269.1 750.0,267.5 752.1,265.6 754.2,263.5 756.4,261.3 758.5,259.1 760.6,257.0 762.8,255.2 764.9,253.8 767.0,253.0 769.2,252.5 771.3,252.0 773.5,251.6 775.7,251.3 777.8,251.1 780.0,251.0 782.0,251.0 784.0,251.0 786.0,251.0 788.0,251.0 790.0,251.0 792.0,251.0 794.0,251.0 796.0,251.0 798.0,251.0 800.0,251.0 802.0,251.3 804.0,252.2 806.0,253.4 808.0,254.8 810.0,256.3 812.0,257.5 814.0,258.6 816.0,259.8 818.0,261.0 820.0,262.2 822.0,263.3 824.0,264.5 826.0,265.6 828.0,266.6 830.0,267.5 832.0,268.4 834.0,269.3 836.0,270.3 838.0,271.2 840.0,272.1 842.0,272.9 844.0,273.5 846.0,274.0 848.0,274.4 850.0,274.5 852.0,274.3 854.0,273.7 856.0,272.9 858.0,271.9 860.0,270.9 862.0,270.0 864.0,269.1 866.0,268.3 868.0,267.4 870.0,266.5 872.0,265.5 874.0,264.6 876.0,263.6 878.0,262.6 880.0,261.6 882.0,260.6 884.0,259.5 886.0,258.4 888.0,257.3 890.0,256.2 892.0,255.0 894.0,253.8 896.0,252.6 898.0,251.3 900.0,250.0 902.3,248.1 904.7,246.0 907.0,244.5 909.0,243.8 911.0,243.3 913.0,242.9 915.0,242.5 917.0,242.0 919.0,241.4 921.0,240.8 923.0,240.2 925.0,239.6 927.0,238.9 929.0,238.3 931.0,237.5 933.0,236.8 935.0,235.9 937.0,235.0 939.0,234.0 941.0,232.9 943.0,231.7 945.0,230.4 947.0,229.0 949.0,227.0 951.0,224.1 953.0,220.8 955.0,217.5 957.0,214.3 959.0,211.0 961.0,207.5 963.0,203.8 965.0,200.0 967.2,195.4 969.5,190.4 971.8,185.3 974.0,180.0 976.0,175.0 978.0,169.6 980.0,164.4 982.0,160.0 984.2,156.0 986.3,152.2 988.5,148.8 990.7,145.7 992.8,142.7 995.0,140.0 997.1,137.4 999.3,134.9 1001.4,132.5 1003.6,130.3 1005.7,128.3 1007.9,126.5 1010.0,125.0 1012.0,123.7 1014.0,122.4 1016.0,121.1 1018.0,119.9 1020.0,118.8 1022.0,117.7 1024.0,116.8 1026.0,116.1 1028.0,115.5 1030.0,115.1 1032.0,115.0 1034.0,115.2 1036.0,115.6 1038.0,116.2 1040.0,116.9 1042.0,117.3 1044.0,117.5 1046.0,117.3 1048.0,116.7 1050.0,115.9 1052.0,114.8 1054.0,113.6 1056.0,112.4 1058.0,111.1 1060.0,110.0 1062.1,108.8 1064.3,107.5 1066.4,106.2 1068.6,104.8 1070.7,103.5 1072.9,102.2 1075.0,101.0 1077.1,99.8 1079.2,98.5 1081.4,97.2 1083.5,95.9 1085.6,94.7 1087.8,93.8 1089.9,93.2 1092.0,93.0 1094.1,93.2 1096.2,93.7 1098.3,94.5 1100.4,95.5 1102.6,96.6 1104.7,97.7 1106.8,98.9 1108.9,100.0 1111.0,101.0" fill="none" stroke="#455c9f" stroke-width="1.3" stroke-linejoin="round"/>
<line x1="124" y1="460" x2="298" y2="460" stroke="#111" stroke-width="2"/>
<line x1="124" y1="510.5" x2="298" y2="510.5" stroke="#111" stroke-width="2"/>
<polyline points="0.0,535.0 2.1,534.8 4.2,534.6 6.2,534.4 8.3,534.2 10.4,534.1 12.5,533.9 14.6,533.7 16.7,533.5 18.8,533.3 20.8,533.2 22.9,533.1 25.0,533.0 27.0,532.9 29.0,532.9 31.0,532.8 33.0,532.8 35.0,532.7 37.0,532.7 39.0,532.6 41.0,532.6 43.0,532.5 45.0,532.5 47.0,532.5 49.0,532.4 51.0,532.4 53.0,532.4 55.0,532.4 57.0,532.3 59.0,532.3 61.0,532.3 63.0,532.2 65.0,532.2 67.0,532.2 69.0,532.1 71.0,532.1 73.0,532.0 75.0,532.0 77.0,532.0 79.1,531.9 81.1,531.8 83.1,531.8 85.1,531.7 87.2,531.7 89.2,531.6 91.2,531.5 93.2,531.5 95.3,531.4 97.3,531.3 99.3,531.3 101.4,531.2 103.4,531.1 105.4,531.0 107.4,531.0 109.5,530.9 111.5,530.8 113.5,530.8 115.5,530.7 117.6,530.6 119.6,530.6 121.6,530.5 123.6,530.4 125.7,530.4 127.7,530.3 129.7,530.3 131.8,530.2 133.8,530.2 135.8,530.1 137.8,530.1 139.9,530.1 141.9,530.0 143.9,530.0 145.9,530.0 148.0,530.0 150.0,530.0 152.0,530.0 154.0,530.0 156.0,530.0 158.0,530.0 160.0,530.0 162.0,530.0 164.0,530.0 166.0,530.0 168.0,530.0 170.0,530.0 172.0,530.0 174.0,530.0 176.0,530.0 178.0,530.0 180.0,530.0 182.0,530.0 184.0,530.0 186.0,530.0 188.0,530.0 190.0,530.0 192.0,530.0 194.0,530.0 196.0,530.0 198.0,530.0 200.0,530.0 202.0,530.0 204.0,530.0 206.0,530.0 208.0,529.9 210.0,529.9 212.0,529.9 214.0,529.8 216.0,529.8 218.0,529.7 220.0,529.6 222.0,529.6 224.0,529.5 226.0,529.5 228.0,529.4 230.0,529.4 232.0,529.3 234.0,529.2 236.0,529.2 238.0,529.1 240.0,529.1 242.0,529.1 244.0,529.0 246.0,529.0 248.0,529.0 250.0,529.0 252.1,529.0 254.1,529.0 256.2,529.0 258.2,529.0 260.3,529.0 262.3,529.0 264.4,529.0 266.4,529.0 268.5,529.0 270.6,529.0 272.6,529.0 274.7,529.0 276.7,529.0 278.8,529.0 280.8,529.0 282.9,529.0 284.9,529.0 287.0,529.0 289.2,529.0 291.3,529.2 293.5,529.4 295.7,529.6 297.8,529.8 300.0,530.0 302.1,530.2 304.1,530.4 306.2,530.6 308.2,530.9 310.3,531.1 312.3,531.4 314.4,531.7 316.4,531.9 318.5,532.2 320.6,532.5 322.6,532.7 324.7,533.0 326.7,533.2 328.8,533.4 330.8,533.6 332.9,533.8 334.9,533.9 337.0,534.0 339.0,534.1 341.0,534.2 343.0,534.2 345.0,534.3 347.0,534.4 349.0,534.5 351.0,534.5 353.0,534.6 355.0,534.7 357.0,534.7 359.0,534.8 361.0,534.8 363.0,534.9 365.0,534.9 367.0,534.9 369.0,535.0 371.0,535.0 373.0,535.0 375.0,535.0 377.0,535.0 379.1,535.0 381.1,535.0 383.1,535.0 385.1,535.0 387.2,535.0 389.2,534.9 391.2,534.9 393.2,534.9 395.3,534.9 397.3,534.9 399.3,534.8 401.4,534.8 403.4,534.8 405.4,534.8 407.4,534.7 409.5,534.7 411.5,534.7 413.5,534.6 415.5,534.6 417.6,534.6 419.6,534.5 421.6,534.5 423.6,534.5 425.7,534.4 427.7,534.4 429.7,534.4 431.8,534.3 433.8,534.3 435.8,534.2 437.8,534.2 439.9,534.2 441.9,534.1 443.9,534.1 445.9,534.1 448.0,534.0 450.0,534.0 452.0,534.0 454.0,533.9 456.0,533.9 458.0,533.8 460.0,533.8 462.0,533.7 464.0,533.7 466.0,533.6 468.0,533.6 470.0,533.5 472.0,533.5 474.0,533.4 476.0,533.4 478.0,533.3 480.0,533.3 482.0,533.2 484.0,533.2 486.0,533.1 488.0,533.1 490.0,533.1 492.0,533.1 494.0,533.0 496.0,533.0 498.0,533.0 500.0,533.0 502.0,533.0 504.0,533.0 506.0,533.1 508.0,533.2 510.0,533.2 512.0,533.3 514.0,533.4 516.0,533.5 518.0,533.7 520.0,533.8 522.0,533.9 524.0,534.1 526.0,534.2 528.0,534.4 530.0,534.5 532.0,534.6 534.0,534.8 536.0,534.9 538.0,535.0 540.0,535.1 542.0,535.2 544.0,535.3 546.0,535.4 548.0,535.5 550.0,535.5 552.0,535.5 554.0,535.6 556.0,535.6 558.0,535.6 560.0,535.7 562.0,535.7 564.0,535.7 566.0,535.7 568.0,535.8 570.0,535.8 572.0,535.8 574.0,535.8 576.0,535.9 578.0,535.9 580.0,535.9 582.0,535.9 584.0,535.9 586.0,536.0 588.0,536.0 590.0,536.0 592.0,536.0 594.0,536.0 596.0,536.0 598.0,536.0 600.0,536.0 602.0,535.8 604.0,535.3 606.0,534.7 608.0,534.2 610.0,534.0 612.0,534.0 614.1,534.0 616.1,534.0 618.1,534.0 620.2,534.1 622.2,534.1 624.2,534.1 626.2,534.2 628.3,534.2 630.3,534.2 632.3,534.3 634.4,534.3 636.4,534.4 638.4,534.4 640.5,534.5 642.5,534.5 644.5,534.5 646.6,534.6 648.6,534.6 650.6,534.7 652.7,534.7 654.7,534.8 656.7,534.8 658.8,534.8 660.8,534.9 662.8,534.9 664.8,534.9 666.9,535.0 668.9,535.0 670.9,535.0 673.0,535.0 675.0,535.0 677.0,535.0 679.0,535.0 681.0,535.0 683.0,535.0 685.0,535.0 687.0,535.0 689.0,535.0 691.0,535.0 693.0,535.0 695.0,535.0 697.0,535.0 699.0,535.0 701.0,535.0 703.0,535.0 705.0,535.0 707.0,535.0 709.0,535.0 711.0,535.0 713.0,535.0 715.0,535.0 717.0,535.0 719.0,535.0 721.0,535.0 723.0,535.0 725.0,535.0 727.0,535.0 729.0,535.0 731.0,535.0 733.0,535.0 735.0,535.0 737.0,535.0 739.0,535.0 741.0,535.0 743.0,535.0 745.0,535.0 747.0,535.0 749.0,535.0 751.0,535.0 753.0,535.0 755.0,535.0 757.0,535.0 759.0,535.0 761.0,535.0 763.0,535.0 765.0,535.0 767.0,535.0 769.0,535.0 771.0,535.0 773.0,535.0 775.0,535.0 777.1,535.1 779.3,535.2 781.4,535.4 783.6,535.6 785.7,535.8 787.9,535.9 790.0,536.0 792.0,536.0 794.0,536.0 796.0,536.0 798.0,536.0 800.0,536.0 802.0,536.0 804.0,536.0 806.0,536.0 808.0,536.0 810.0,536.0 812.0,536.0 814.0,536.0 816.0,536.0 818.0,536.0 820.0,536.0 822.0,536.0 824.0,536.0 826.0,536.0 828.0,536.0 830.0,536.0 832.0,536.0 834.0,536.0 836.0,536.0 838.0,536.0 840.0,536.0 842.0,536.0 844.0,536.0 846.0,536.0 848.0,536.0 850.0,536.0 852.0,536.0 854.0,536.0 856.0,536.0 858.0,536.0 860.0,536.0 862.0,536.0 864.0,535.9 866.0,535.9 868.0,535.9 870.0,535.9 872.0,535.9 874.0,535.8 876.0,535.8 878.0,535.8 880.0,535.8 882.0,535.7 884.0,535.7 886.0,535.7 888.0,535.7 890.0,535.6 892.0,535.6 894.0,535.6 896.0,535.6 898.0,535.5 900.0,535.5 902.0,535.5 904.1,535.4 906.1,535.4 908.1,535.4 910.1,535.4 912.2,535.3 914.2,535.3 916.2,535.3 918.2,535.2 920.3,535.2 922.3,535.2 924.3,535.1 926.4,535.1 928.4,535.1 930.4,535.0 932.4,535.0 934.5,534.9 936.5,534.9 938.5,534.9 940.5,534.8 942.6,534.8 944.6,534.7 946.6,534.7 948.6,534.7 950.7,534.6 952.7,534.6 954.7,534.5 956.8,534.5 958.8,534.4 960.8,534.4 962.8,534.3 964.9,534.3 966.9,534.2 968.9,534.2 970.9,534.1 973.0,534.1 975.0,534.0 977.1,533.9 979.1,533.9 981.2,533.8 983.2,533.7 985.3,533.6 987.3,533.5 989.4,533.4 991.4,533.3 993.5,533.2 995.6,533.1 997.6,533.0 999.7,532.9 1001.7,532.8 1003.8,532.7 1005.8,532.6 1007.9,532.6 1009.9,532.5 1012.0,532.5 1014.0,532.5 1016.0,532.4 1018.0,532.4 1020.0,532.4 1022.0,532.4 1024.0,532.4 1026.0,532.3 1028.0,532.3 1030.0,532.3 1032.0,532.3 1034.0,532.2 1036.0,532.2 1038.0,532.2 1040.0,532.2 1042.0,532.2 1044.0,532.2 1046.0,532.1 1048.0,532.1 1050.0,532.1 1052.0,532.1 1054.0,532.1 1056.0,532.1 1058.0,532.1 1060.0,532.1 1062.0,532.0 1064.0,532.0 1066.0,532.0 1068.0,532.0 1070.0,532.0 1072.0,532.0 1074.0,532.0 1076.0,532.0 1078.0,532.0 1080.0,532.0 1082.0,532.0 1084.0,532.2 1086.0,532.7 1088.0,533.2 1090.0,533.7 1092.0,534.0 1094.1,534.1 1096.2,534.2 1098.3,534.2 1100.4,534.3 1102.6,534.3 1104.7,534.4 1106.8,534.4 1108.9,534.4 1111.0,534.5" fill="none" stroke="#111" stroke-width="2.2" stroke-linejoin="round"/>
<line x1="-1.7" y1="401" x2="-1.7" y2="412" stroke="#111" stroke-width="1.2"/>
<rect x="-5.0" y="401" width="6.6" height="11.0" fill="#0a0a0a"/>
<line x1="8.0" y1="396" x2="8.0" y2="425.5" stroke="#111" stroke-width="1.2"/>
<rect x="4.7" y="398" width="6.6" height="22.0" fill="#0a0a0a"/>
<line x1="17.7" y1="421" x2="17.7" y2="445.5" stroke="#111" stroke-width="1.2"/>
<rect x="14.4" y="425.5" width="6.6" height="6.5" fill="#0a0a0a"/>
<line x1="27.4" y1="424" x2="27.4" y2="454" stroke="#111" stroke-width="1.2"/>
<rect x="24.1" y="432.5" width="6.6" height="13.0" fill="#0a0a0a"/>
<line x1="37.0" y1="418" x2="37.0" y2="439" stroke="#111" stroke-width="1.2"/>
<rect x="34.2" y="421.5" width="5.6" height="14.0" fill="#fff" stroke="#111" stroke-width="1.1"/>
<line x1="46.7" y1="422.5" x2="46.7" y2="445" stroke="#111" stroke-width="1.2"/>
<rect x="43.4" y="426" width="6.6" height="16.5" fill="#0a0a0a"/>
<line x1="56.4" y1="388" x2="56.4" y2="425" stroke="#111" stroke-width="1.2"/>
<rect x="53.6" y="398.0" width="5.6" height="22.5" fill="#fff" stroke="#111" stroke-width="1.1"/>
<line x1="66.1" y1="363" x2="66.1" y2="384" stroke="#111" stroke-width="1.2"/>
<rect x="63.3" y="378.5" width="5.6" height="3.5" fill="#fff" stroke="#111" stroke-width="1.1"/>
<line x1="73.0" y1="370.5" x2="78.6" y2="370.5" stroke="#111" stroke-width="1.3"/>
<line x1="73.0" y1="385" x2="78.6" y2="385" stroke="#111" stroke-width="1.3"/>
<line x1="85.4" y1="367" x2="85.4" y2="400.5" stroke="#111" stroke-width="1.2"/>
<rect x="82.1" y="367" width="6.6" height="30.5" fill="#0a0a0a"/>
<line x1="95.1" y1="422.5" x2="95.1" y2="427.5" stroke="#111" stroke-width="1.2"/>
<rect x="91.8" y="422.5" width="6.6" height="5.0" fill="#0a0a0a"/>
<line x1="104.8" y1="426" x2="104.8" y2="470.5" stroke="#111" stroke-width="1.2"/>
<rect x="101.5" y="426" width="6.6" height="44.5" fill="#0a0a0a"/>
<line x1="114.5" y1="459.5" x2="114.5" y2="499" stroke="#111" stroke-width="1.2"/>
<rect x="111.2" y="470" width="6.6" height="19.5" fill="#0a0a0a"/>
<line x1="124.2" y1="468" x2="124.2" y2="501" stroke="#111" stroke-width="1.2"/>
<rect x="120.9" y="468" width="6.6" height="33.0" fill="#0a0a0a"/>
<line x1="133.8" y1="486" x2="133.8" y2="520" stroke="#111" stroke-width="1.2"/>
<line x1="130.6" y1="497.5" x2="137.0" y2="497.5" stroke="#111" stroke-width="1.7"/>
<line x1="143.5" y1="472.5" x2="143.5" y2="502.5" stroke="#111" stroke-width="1.2"/>
<rect x="140.2" y="476.5" width="6.6" height="3.5" fill="#0a0a0a"/>
<line x1="153.2" y1="485.5" x2="153.2" y2="524.5" stroke="#111" stroke-width="1.2"/>
<rect x="149.9" y="485.5" width="6.6" height="12.5" fill="#0a0a0a"/>
<line x1="162.9" y1="475" x2="162.9" y2="494" stroke="#111" stroke-width="1.2"/>
<rect x="160.1" y="478.5" width="5.6" height="7.0" fill="#fff" stroke="#111" stroke-width="1.1"/>
<line x1="172.6" y1="459.5" x2="172.6" y2="477.5" stroke="#111" stroke-width="1.2"/>
<rect x="169.3" y="467.5" width="6.6" height="4.5" fill="#0a0a0a"/>
<line x1="182.2" y1="462" x2="182.2" y2="489" stroke="#111" stroke-width="1.2"/>
<rect x="178.9" y="480.5" width="6.6" height="2.5" fill="#0a0a0a"/>
<line x1="191.9" y1="479" x2="191.9" y2="510" stroke="#111" stroke-width="1.2"/>
<rect x="188.6" y="483" width="6.6" height="23.0" fill="#0a0a0a"/>
<line x1="201.6" y1="481" x2="201.6" y2="510" stroke="#111" stroke-width="1.2"/>
<line x1="198.4" y1="499" x2="204.8" y2="499" stroke="#111" stroke-width="1.7"/>
<line x1="211.3" y1="486" x2="211.3" y2="510" stroke="#111" stroke-width="1.2"/>
<rect x="208.0" y="491" width="6.6" height="13.5" fill="#0a0a0a"/>
<line x1="221.0" y1="475" x2="221.0" y2="506" stroke="#111" stroke-width="1.2"/>
<rect x="218.2" y="483.0" width="5.6" height="16.5" fill="#fff" stroke="#111" stroke-width="1.1"/>
<line x1="230.6" y1="432.5" x2="230.6" y2="461" stroke="#111" stroke-width="1.2"/>
<rect x="227.8" y="436.5" width="5.6" height="24.0" fill="#fff" stroke="#111" stroke-width="1.1"/>
<line x1="240.3" y1="425.5" x2="240.3" y2="444" stroke="#111" stroke-width="1.2"/>
<rect x="237.0" y="425.5" width="6.6" height="4.0" fill="#0a0a0a"/>
<line x1="250.0" y1="401" x2="250.0" y2="429" stroke="#111" stroke-width="1.2"/>
<rect x="247.2" y="404.5" width="5.6" height="20.5" fill="#fff" stroke="#111" stroke-width="1.1"/>
<line x1="256.9" y1="396" x2="262.5" y2="396" stroke="#111" stroke-width="1.3"/>
<line x1="256.9" y1="407" x2="262.5" y2="407" stroke="#111" stroke-width="1.3"/>
<line x1="269.4" y1="380" x2="269.4" y2="395.5" stroke="#111" stroke-width="1.2"/>
<rect x="266.1" y="390" width="6.6" height="2.5" fill="#0a0a0a"/>
<line x1="276.2" y1="376" x2="281.8" y2="376" stroke="#111" stroke-width="1.3"/>
<line x1="276.2" y1="378.5" x2="281.8" y2="378.5" stroke="#111" stroke-width="1.3"/>
<line x1="285.9" y1="361" x2="291.5" y2="361" stroke="#111" stroke-width="1.3"/>
<line x1="285.9" y1="369.5" x2="291.5" y2="369.5" stroke="#111" stroke-width="1.3"/>
<line x1="298.4" y1="356" x2="298.4" y2="375" stroke="#111" stroke-width="1.2"/>
<rect x="295.6" y="359.5" width="5.6" height="2.0" fill="#fff" stroke="#111" stroke-width="1.1"/>
<line x1="308.1" y1="352.5" x2="308.1" y2="379" stroke="#111" stroke-width="1.2"/>
<rect x="304.8" y="352.5" width="6.6" height="26.5" fill="#0a0a0a"/>
<line x1="317.8" y1="368" x2="317.8" y2="394" stroke="#111" stroke-width="1.2"/>
<rect x="314.5" y="368" width="6.6" height="18.0" fill="#0a0a0a"/>
<line x1="327.4" y1="385" x2="327.4" y2="398" stroke="#111" stroke-width="1.2"/>
<rect x="324.1" y="387" width="6.6" height="7.0" fill="#0a0a0a"/>
<line x1="337.1" y1="382.5" x2="337.1" y2="397.5" stroke="#111" stroke-width="1.2"/>
<rect x="333.8" y="390" width="6.6" height="2.5" fill="#0a0a0a"/>
<line x1="346.8" y1="385" x2="346.8" y2="403" stroke="#111" stroke-width="1.2"/>
<rect x="343.5" y="389" width="6.6" height="3.5" fill="#0a0a0a"/>
<line x1="356.5" y1="372.5" x2="356.5" y2="394" stroke="#111" stroke-width="1.2"/>
<rect x="353.7" y="373.0" width="5.6" height="5.5" fill="#fff" stroke="#111" stroke-width="1.1"/>
<line x1="366.2" y1="361" x2="366.2" y2="375" stroke="#111" stroke-width="1.2"/>
<line x1="363.0" y1="368" x2="369.4" y2="368" stroke="#111" stroke-width="1.7"/>
<line x1="375.8" y1="358" x2="375.8" y2="377.5" stroke="#111" stroke-width="1.2"/>
<rect x="373.0" y="361.0" width="5.6" height="6.5" fill="#fff" stroke="#111" stroke-width="1.1"/>
<line x1="385.5" y1="340" x2="385.5" y2="362.5" stroke="#111" stroke-width="1.2"/>
<rect x="382.7" y="345.0" width="5.6" height="15.0" fill="#fff" stroke="#111" stroke-width="1.1"/>
<line x1="395.2" y1="314.5" x2="395.2" y2="347.5" stroke="#111" stroke-width="1.2"/>
<rect x="392.4" y="318.5" width="5.6" height="18.5" fill="#fff" stroke="#111" stroke-width="1.1"/>
<line x1="404.9" y1="299.5" x2="404.9" y2="311" stroke="#111" stroke-width="1.2"/>
<rect x="402.1" y="305.5" width="5.6" height="3.0" fill="#fff" stroke="#111" stroke-width="1.1"/>
<line x1="414.6" y1="309" x2="414.6" y2="321" stroke="#111" stroke-width="1.2"/>
<rect x="411.3" y="310" width="6.6" height="4.5" fill="#0a0a0a"/>
<line x1="424.2" y1="284" x2="424.2" y2="317.5" stroke="#111" stroke-width="1.2"/>
<rect x="421.4" y="286.5" width="5.6" height="29.0" fill="#fff" stroke="#111" stroke-width="1.1"/>
<line x1="433.9" y1="293" x2="433.9" y2="319.5" stroke="#111" stroke-width="1.2"/>
<rect x="430.6" y="309" width="6.6" height="8.5" fill="#0a0a0a"/>
<line x1="440.8" y1="285" x2="446.4" y2="285" stroke="#111" stroke-width="1.3"/>
<line x1="453.3" y1="271" x2="453.3" y2="289.5" stroke="#111" stroke-width="1.2"/>
<rect x="450.0" y="278" width="6.6" height="7.0" fill="#0a0a0a"/>
<line x1="472.6" y1="269" x2="472.6" y2="279.5" stroke="#111" stroke-width="1.2"/>
<rect x="469.3" y="269" width="6.6" height="10.5" fill="#0a0a0a"/>
<polyline points="479.3,283 485.6,283 485.6,277" fill="none" stroke="#111" stroke-width="1.3"/>
<line x1="489.2" y1="262" x2="494.8" y2="262" stroke="#111" stroke-width="1.3"/>
<line x1="489.2" y1="272.5" x2="494.8" y2="272.5" stroke="#111" stroke-width="1.3"/>
<line x1="501.7" y1="257.5" x2="501.7" y2="284.5" stroke="#111" stroke-width="1.2"/>
<rect x="498.4" y="257.5" width="6.6" height="24.5" fill="#0a0a0a"/>
<line x1="511.4" y1="277.5" x2="511.4" y2="309.5" stroke="#111" stroke-width="1.2"/>
<rect x="508.1" y="279" width="6.6" height="20.0" fill="#0a0a0a"/>
<line x1="521.0" y1="280" x2="521.0" y2="312" stroke="#111" stroke-width="1.2"/>
<rect x="517.7" y="281" width="6.6" height="26.5" fill="#0a0a0a"/>
<line x1="530.7" y1="293" x2="530.7" y2="319" stroke="#111" stroke-width="1.2"/>
<rect x="527.9" y="296.0" width="5.6" height="1.5" fill="#fff" stroke="#111" stroke-width="1.1"/>
<line x1="540.4" y1="273" x2="540.4" y2="299" stroke="#333" stroke-width="0.8" stroke-dasharray="3 1.5"/>
<line x1="537.2" y1="276.7" x2="537.2" y2="295.8" stroke="#111" stroke-width="1.1"/>
<line x1="543.6" y1="276.7" x2="543.6" y2="295.8" stroke="#111" stroke-width="1.1"/>
<line x1="550.1" y1="259.5" x2="550.1" y2="274.5" stroke="#111" stroke-width="1.2"/>
<rect x="546.8" y="268" width="6.6" height="2.5" fill="#0a0a0a"/>
<line x1="559.8" y1="264.5" x2="559.8" y2="284.5" stroke="#111" stroke-width="1.2"/>
<line x1="556.6" y1="281" x2="563.0" y2="281" stroke="#111" stroke-width="1.7"/>
<line x1="569.4" y1="273" x2="569.4" y2="294.5" stroke="#111" stroke-width="1.2"/>
<rect x="566.6" y="276.0" width="5.6" height="7.5" fill="#fff" stroke="#111" stroke-width="1.1"/>
<line x1="579.1" y1="244" x2="579.1" y2="274" stroke="#111" stroke-width="1.2"/>
<rect x="576.3" y="246.0" width="5.6" height="20.5" fill="#fff" stroke="#111" stroke-width="1.1"/>
<line x1="588.8" y1="222.5" x2="588.8" y2="232" stroke="#111" stroke-width="1.2"/>
<rect x="585.5" y="226" width="6.6" height="2.5" fill="#0a0a0a"/>
<line x1="598.5" y1="219" x2="598.5" y2="232.5" stroke="#111" stroke-width="1.2"/>
<rect x="595.7" y="224.5" width="5.6" height="4.0" fill="#fff" stroke="#111" stroke-width="1.1"/>
<line x1="608.2" y1="229" x2="608.2" y2="247.5" stroke="#111" stroke-width="1.2"/>
<rect x="604.9" y="229" width="6.6" height="11.0" fill="#0a0a0a"/>
<line x1="617.8" y1="231" x2="617.8" y2="251" stroke="#111" stroke-width="1.2"/>
<rect x="614.5" y="233" width="6.6" height="14.5" fill="#0a0a0a"/>
<line x1="627.5" y1="232.5" x2="627.5" y2="249" stroke="#111" stroke-width="1.2"/>
<rect x="624.2" y="237.5" width="6.6" height="2.0" fill="#0a0a0a"/>
<line x1="637.2" y1="222.5" x2="637.2" y2="231" stroke="#111" stroke-width="1.2"/>
<rect x="633.9" y="226" width="6.6" height="3.5" fill="#0a0a0a"/>
<line x1="653.8" y1="207" x2="659.4" y2="207" stroke="#111" stroke-width="1.3"/>
<line x1="653.8" y1="218" x2="659.4" y2="218" stroke="#111" stroke-width="1.3"/>
<line x1="666.2" y1="207" x2="666.2" y2="222.5" stroke="#111" stroke-width="1.2"/>
<rect x="662.9" y="207" width="6.6" height="15.5" fill="#0a0a0a"/>
<line x1="675.9" y1="220" x2="675.9" y2="235.5" stroke="#111" stroke-width="1.2"/>
<rect x="672.6" y="220" width="6.6" height="15.5" fill="#0a0a0a"/>
<line x1="685.6" y1="223" x2="685.6" y2="235.5" stroke="#111" stroke-width="1.2"/>
<line x1="682.4" y1="229" x2="688.8" y2="229" stroke="#111" stroke-width="1.7"/>
<line x1="695.3" y1="207" x2="695.3" y2="223" stroke="#111" stroke-width="1.2"/>
<rect x="692.5" y="210.0" width="5.6" height="12.5" fill="#fff" stroke="#111" stroke-width="1.1"/>
<line x1="705.0" y1="200.5" x2="705.0" y2="214" stroke="#111" stroke-width="1.2"/>
<line x1="701.8" y1="204" x2="708.2" y2="204" stroke="#111" stroke-width="1.7"/>
<line x1="714.6" y1="196" x2="714.6" y2="217" stroke="#111" stroke-width="1.2"/>
<rect x="711.3" y="200.5" width="6.6" height="14.0" fill="#0a0a0a"/>
<line x1="724.3" y1="185" x2="724.3" y2="209.5" stroke="#111" stroke-width="1.2"/>
<rect x="721.5" y="191.5" width="5.6" height="17.0" fill="#fff" stroke="#111" stroke-width="1.1"/>
<line x1="734.0" y1="181" x2="734.0" y2="209" stroke="#111" stroke-width="1.2"/>
<rect x="730.7" y="183" width="6.6" height="21.0" fill="#0a0a0a"/>
<line x1="743.7" y1="188" x2="743.7" y2="219" stroke="#111" stroke-width="1.2"/>
<rect x="740.9" y="192.5" width="5.6" height="11.0" fill="#fff" stroke="#111" stroke-width="1.1"/>
<line x1="753.4" y1="182.5" x2="753.4" y2="195.5" stroke="#111" stroke-width="1.2"/>
<rect x="750.6" y="185.5" width="5.6" height="1.5" fill="#fff" stroke="#111" stroke-width="1.1"/>
<line x1="763.0" y1="182" x2="763.0" y2="202" stroke="#111" stroke-width="1.2"/>
<rect x="759.7" y="186" width="6.6" height="14.5" fill="#0a0a0a"/>
<line x1="772.7" y1="203" x2="772.7" y2="220.5" stroke="#111" stroke-width="1.2"/>
<rect x="769.4" y="205" width="6.6" height="14.0" fill="#0a0a0a"/>
<line x1="782.4" y1="208" x2="782.4" y2="220.5" stroke="#111" stroke-width="1.2"/>
<line x1="779.2" y1="215" x2="785.6" y2="215" stroke="#111" stroke-width="1.7"/>
<line x1="792.1" y1="192" x2="792.1" y2="209.5" stroke="#111" stroke-width="1.2"/>
<rect x="789.3" y="192.5" width="5.6" height="11.0" fill="#fff" stroke="#111" stroke-width="1.1"/>
<line x1="801.8" y1="160" x2="801.8" y2="184" stroke="#111" stroke-width="1.2"/>
<rect x="799.0" y="166.5" width="5.6" height="10.5" fill="#fff" stroke="#111" stroke-width="1.1"/>
<line x1="811.4" y1="128" x2="811.4" y2="157.5" stroke="#111" stroke-width="1.2"/>
<rect x="808.6" y="130.5" width="5.6" height="18.5" fill="#fff" stroke="#111" stroke-width="1.1"/>
<line x1="821.1" y1="104.5" x2="821.1" y2="121" stroke="#111" stroke-width="1.2"/>
<rect x="818.3" y="108.5" width="5.6" height="12.0" fill="#fff" stroke="#111" stroke-width="1.1"/>
<line x1="830.8" y1="93.5" x2="830.8" y2="96.5" stroke="#111" stroke-width="1.2"/>
<rect x="827.5" y="93.5" width="6.6" height="3.0" fill="#0a0a0a"/>
<line x1="840.5" y1="94" x2="840.5" y2="96" stroke="#111" stroke-width="1.2"/>
<rect x="837.2" y="94" width="6.6" height="2.0" fill="#0a0a0a"/>
<polyline points="847.5,79.5 853.2,79.5 853.2,97 847.5,97" fill="none" stroke="#111" stroke-width="1.3"/>
<line x1="859.8" y1="91" x2="859.8" y2="106.5" stroke="#111" stroke-width="1.2"/>
<rect x="856.5" y="91" width="6.6" height="15.5" fill="#0a0a0a"/>
<line x1="869.5" y1="89" x2="869.5" y2="106" stroke="#111" stroke-width="1.2"/>
<rect x="866.2" y="95" width="6.6" height="7.5" fill="#0a0a0a"/>
<line x1="879.2" y1="76" x2="879.2" y2="92.5" stroke="#111" stroke-width="1.2"/>
<rect x="876.4" y="88.5" width="5.6" height="1.5" fill="#fff" stroke="#111" stroke-width="1.1"/>
<line x1="888.9" y1="77.5" x2="888.9" y2="100" stroke="#111" stroke-width="1.2"/>
<rect x="885.6" y="78" width="6.6" height="19.5" fill="#0a0a0a"/>
<line x1="898.6" y1="67.5" x2="898.6" y2="96" stroke="#111" stroke-width="1.2"/>
<rect x="895.3" y="79.5" width="6.6" height="13.0" fill="#0a0a0a"/>
<line x1="908.2" y1="62" x2="908.2" y2="90" stroke="#111" stroke-width="1.2"/>
<rect x="905.4" y="69.5" width="5.6" height="9.5" fill="#fff" stroke="#111" stroke-width="1.1"/>
<line x1="917.9" y1="40" x2="917.9" y2="67.5" stroke="#111" stroke-width="1.2"/>
<rect x="915.1" y="42.5" width="5.6" height="16.5" fill="#fff" stroke="#111" stroke-width="1.1"/>
<line x1="927.6" y1="25" x2="927.6" y2="45" stroke="#111" stroke-width="1.2"/>
<rect x="924.3" y="30" width="6.6" height="7.0" fill="#0a0a0a"/>
<line x1="937.3" y1="20" x2="937.3" y2="40" stroke="#111" stroke-width="1.2"/>
<rect x="934.5" y="23.5" width="5.6" height="3.0" fill="#fff" stroke="#111" stroke-width="1.1"/>
<line x1="947.0" y1="-10" x2="947.0" y2="34.5" stroke="#111" stroke-width="1.2"/>
<rect x="944.2" y="-9.5" width="5.6" height="31.5" fill="#fff" stroke="#111" stroke-width="1.1"/>
<line x1="956.6" y1="14.5" x2="956.6" y2="44.5" stroke="#111" stroke-width="1.2"/>
<rect x="953.3" y="28" width="6.6" height="9.5" fill="#0a0a0a"/>
<line x1="966.3" y1="31" x2="966.3" y2="52" stroke="#111" stroke-width="1.2"/>
<rect x="963.0" y="36" width="6.6" height="14.0" fill="#0a0a0a"/>
<line x1="976.0" y1="39" x2="976.0" y2="57.5" stroke="#111" stroke-width="1.2"/>
<rect x="972.7" y="39" width="6.6" height="9.5" fill="#0a0a0a"/>
<line x1="985.7" y1="23.5" x2="985.7" y2="41.5" stroke="#111" stroke-width="1.2"/>
<rect x="982.9" y="33.0" width="5.6" height="6.0" fill="#fff" stroke="#111" stroke-width="1.1"/>
<line x1="995.4" y1="17.5" x2="995.4" y2="61" stroke="#111" stroke-width="1.2"/>
<rect x="992.1" y="20" width="6.6" height="32.0" fill="#0a0a0a"/>
<line x1="1005.0" y1="45" x2="1005.0" y2="67.5" stroke="#111" stroke-width="1.2"/>
<line x1="1001.8" y1="53" x2="1008.2" y2="53" stroke="#111" stroke-width="1.7"/>
<polyline points="1011.7,50 1018.0,50 1018.0,36.5" fill="none" stroke="#111" stroke-width="1.3"/>
<line x1="1024.4" y1="30" x2="1024.4" y2="39.5" stroke="#111" stroke-width="1.2"/>
<rect x="1021.1" y="30" width="6.6" height="9.5" fill="#0a0a0a"/>
<line x1="1034.1" y1="52" x2="1034.1" y2="74" stroke="#111" stroke-width="1.2"/>
<rect x="1030.8" y="52" width="6.6" height="22.0" fill="#0a0a0a"/>
<line x1="1043.8" y1="84.5" x2="1043.8" y2="98" stroke="#111" stroke-width="1.2"/>
<rect x="1040.5" y="84.5" width="6.6" height="13.5" fill="#0a0a0a"/>
<line x1="1053.4" y1="71" x2="1053.4" y2="87.5" stroke="#111" stroke-width="1.2"/>
<rect x="1050.6" y="75.5" width="5.6" height="8.5" fill="#fff" stroke="#111" stroke-width="1.1"/>
<line x1="1060.3" y1="61" x2="1065.9" y2="61" stroke="#111" stroke-width="1.3"/>
<line x1="1060.3" y1="65" x2="1065.9" y2="65" stroke="#111" stroke-width="1.3"/>
<line x1="1072.8" y1="55" x2="1072.8" y2="72.5" stroke="#111" stroke-width="1.2"/>
<rect x="1069.5" y="57.5" width="6.6" height="9.5" fill="#0a0a0a"/>
<line x1="1082.5" y1="54" x2="1082.5" y2="82.5" stroke="#111" stroke-width="1.2"/>
<rect x="1079.7" y="57.5" width="5.6" height="7.5" fill="#fff" stroke="#111" stroke-width="1.1"/>
<line x1="1092.2" y1="59" x2="1092.2" y2="78" stroke="#111" stroke-width="1.2"/>
<rect x="1088.9" y="61" width="6.6" height="9.5" fill="#0a0a0a"/>
<line x1="1101.8" y1="68" x2="1101.8" y2="92.5" stroke="#111" stroke-width="1.2"/>
<rect x="1098.5" y="69" width="6.6" height="21.0" fill="#0a0a0a"/>
<line x1="1111.5" y1="84" x2="1111.5" y2="118" stroke="#111" stroke-width="1.2"/>
<rect x="1108.7" y="90.0" width="5.6" height="7.0" fill="#fff" stroke="#111" stroke-width="1.1"/>
<line x1="4" y1="600.5" x2="1160" y2="600.5" stroke="#555" stroke-width="1" stroke-dasharray="4.5 4.2"/>
<line x1="4" y1="632.5" x2="1160" y2="632.5" stroke="#555" stroke-width="1" stroke-dasharray="4.5 4.2"/>
<line x1="4" y1="665" x2="1160" y2="665" stroke="#555" stroke-width="1" stroke-dasharray="4.5 4.2"/>
<line x1="4" y1="698.4" x2="1160" y2="698.4" stroke="#555" stroke-width="1" stroke-dasharray="4.5 4.2"/>
<line x1="0" y1="704.5" x2="1200" y2="704.5" stroke="#e3e3e3" stroke-width="1"/>
<line x1="1116" y1="593.5" x2="1200" y2="593.5" stroke="#ececec" stroke-width="1"/>
<defs><clipPath id="chi"><rect x="0" y="590" width="1200" height="42.5"/></clipPath><clipPath id="cmid"><rect x="0" y="632.5" width="1200" height="32.5"/></clipPath><clipPath id="clo"><rect x="0" y="665" width="1200" height="45"/></clipPath></defs>
<line x1="26" y1="680" x2="125" y2="679" stroke="#3a7fc1" stroke-width="1.3"/>
<polyline points="424,610.5 491,614 656.5,616 724,620.5" fill="none" stroke="#d9525a" stroke-width="1.6"/>
<polyline clip-path="url(#chi)" points="0.0,671.0 7.5,674.0 26.0,680.0 36.0,667.5 46.0,673.0 55.0,655.5 64.5,649.0 75.0,645.5 85.0,655.0 95.0,664.0 105.0,672.5 115.0,677.0 125.0,679.0 132.5,677.5 143.0,670.0 152.5,674.0 162.5,666.0 172.0,663.0 181.0,666.0 192.0,672.0 201.0,669.5 211.0,671.0 220.5,661.0 230.0,644.5 240.0,642.5 250.0,635.0 260.0,633.0 270.0,632.0 279.0,627.0 289.0,623.0 299.0,623.0 309.0,633.0 317.5,636.0 327.0,639.0 345.0,639.0 355.0,631.0 366.0,629.0 376.0,626.0 386.0,620.0 395.0,614.0 404.5,610.5 414.5,616.0 424.0,610.5 434.0,627.5 444.0,619.5 454.0,619.0 462.5,616.0 472.5,619.0 482.5,617.5 491.0,614.0 501.0,626.0 511.0,634.5 520.5,639.0 530.0,634.0 540.0,628.0 550.0,626.0 559.0,631.0 569.0,629.5 579.0,620.0 589.0,615.0 599.0,614.0 607.5,624.0 617.0,629.0 627.5,626.0 637.5,622.5 647.0,622.0 656.5,616.0 666.0,625.0 676.0,632.5 685.0,630.0 695.0,624.0 705.0,621.0 714.5,628.0 724.0,620.5 734.0,628.0 744.0,624.5 753.0,622.5 762.5,631.0 772.5,641.0 782.0,639.0 792.0,630.0 801.0,621.0 811.0,612.5 821.0,608.0 830.0,606.0 840.0,606.0 849.0,602.5 859.5,619.0 869.0,617.5 879.0,614.0 889.0,619.5 899.0,618.0 909.0,612.5 917.5,607.5 927.5,606.0 937.5,602.5 947.0,599.5 956.5,620.0 966.0,626.0 976.0,626.0 985.5,621.0 995.0,630.0 1005.0,632.0 1014.5,627.0 1024.0,629.0 1034.0,644.0 1043.0,654.0 1053.0,645.5 1062.5,641.0 1072.5,642.5 1082.5,639.0 1092.0,646.0 1102.0,652.5 1111.5,652.0" fill="none" stroke="#3f6f9f" stroke-width="1.5" stroke-linejoin="round"/>
<polyline clip-path="url(#cmid)" points="0.0,671.0 7.5,674.0 26.0,680.0 36.0,667.5 46.0,673.0 55.0,655.5 64.5,649.0 75.0,645.5 85.0,655.0 95.0,664.0 105.0,672.5 115.0,677.0 125.0,679.0 132.5,677.5 143.0,670.0 152.5,674.0 162.5,666.0 172.0,663.0 181.0,666.0 192.0,672.0 201.0,669.5 211.0,671.0 220.5,661.0 230.0,644.5 240.0,642.5 250.0,635.0 260.0,633.0 270.0,632.0 279.0,627.0 289.0,623.0 299.0,623.0 309.0,633.0 317.5,636.0 327.0,639.0 345.0,639.0 355.0,631.0 366.0,629.0 376.0,626.0 386.0,620.0 395.0,614.0 404.5,610.5 414.5,616.0 424.0,610.5 434.0,627.5 444.0,619.5 454.0,619.0 462.5,616.0 472.5,619.0 482.5,617.5 491.0,614.0 501.0,626.0 511.0,634.5 520.5,639.0 530.0,634.0 540.0,628.0 550.0,626.0 559.0,631.0 569.0,629.5 579.0,620.0 589.0,615.0 599.0,614.0 607.5,624.0 617.0,629.0 627.5,626.0 637.5,622.5 647.0,622.0 656.5,616.0 666.0,625.0 676.0,632.5 685.0,630.0 695.0,624.0 705.0,621.0 714.5,628.0 724.0,620.5 734.0,628.0 744.0,624.5 753.0,622.5 762.5,631.0 772.5,641.0 782.0,639.0 792.0,630.0 801.0,621.0 811.0,612.5 821.0,608.0 830.0,606.0 840.0,606.0 849.0,602.5 859.5,619.0 869.0,617.5 879.0,614.0 889.0,619.5 899.0,618.0 909.0,612.5 917.5,607.5 927.5,606.0 937.5,602.5 947.0,599.5 956.5,620.0 966.0,626.0 976.0,626.0 985.5,621.0 995.0,630.0 1005.0,632.0 1014.5,627.0 1024.0,629.0 1034.0,644.0 1043.0,654.0 1053.0,645.5 1062.5,641.0 1072.5,642.5 1082.5,639.0 1092.0,646.0 1102.0,652.5 1111.5,652.0" fill="none" stroke="#1a1a1a" stroke-width="1.5" stroke-linejoin="round"/>
<polyline clip-path="url(#clo)" points="0.0,671.0 7.5,674.0 26.0,680.0 36.0,667.5 46.0,673.0 55.0,655.5 64.5,649.0 75.0,645.5 85.0,655.0 95.0,664.0 105.0,672.5 115.0,677.0 125.0,679.0 132.5,677.5 143.0,670.0 152.5,674.0 162.5,666.0 172.0,663.0 181.0,666.0 192.0,672.0 201.0,669.5 211.0,671.0 220.5,661.0 230.0,644.5 240.0,642.5 250.0,635.0 260.0,633.0 270.0,632.0 279.0,627.0 289.0,623.0 299.0,623.0 309.0,633.0 317.5,636.0 327.0,639.0 345.0,639.0 355.0,631.0 366.0,629.0 376.0,626.0 386.0,620.0 395.0,614.0 404.5,610.5 414.5,616.0 424.0,610.5 434.0,627.5 444.0,619.5 454.0,619.0 462.5,616.0 472.5,619.0 482.5,617.5 491.0,614.0 501.0,626.0 511.0,634.5 520.5,639.0 530.0,634.0 540.0,628.0 550.0,626.0 559.0,631.0 569.0,629.5 579.0,620.0 589.0,615.0 599.0,614.0 607.5,624.0 617.0,629.0 627.5,626.0 637.5,622.5 647.0,622.0 656.5,616.0 666.0,625.0 676.0,632.5 685.0,630.0 695.0,624.0 705.0,621.0 714.5,628.0 724.0,620.5 734.0,628.0 744.0,624.5 753.0,622.5 762.5,631.0 772.5,641.0 782.0,639.0 792.0,630.0 801.0,621.0 811.0,612.5 821.0,608.0 830.0,606.0 840.0,606.0 849.0,602.5 859.5,619.0 869.0,617.5 879.0,614.0 889.0,619.5 899.0,618.0 909.0,612.5 917.5,607.5 927.5,606.0 937.5,602.5 947.0,599.5 956.5,620.0 966.0,626.0 976.0,626.0 985.5,621.0 995.0,630.0 1005.0,632.0 1014.5,627.0 1024.0,629.0 1034.0,644.0 1043.0,654.0 1053.0,645.5 1062.5,641.0 1072.5,642.5 1082.5,639.0 1092.0,646.0 1102.0,652.5 1111.5,652.0" fill="none" stroke="#d8475c" stroke-width="1.5" stroke-linejoin="round"/>
<polyline points="922,721 935,716.5 947,712.5 957,714.5 967,717.5 985,721" fill="none" stroke="#3f6f9f" stroke-width="1.5"/>
<polyline points="954,719.2 985,720.5" fill="none" stroke="#c94f7c" stroke-width="2.2"/>
<text class="ax" transform="translate(1167.3,30.6) scale(0.855,1)">19800.00</text>
<text class="ax" transform="translate(1167.3,64.1) scale(0.855,1)">19600.00</text>
<text class="ax" transform="translate(1167.3,97.7) scale(0.855,1)">19400.00</text>
<text class="ax" transform="translate(1167.3,131.2) scale(0.855,1)">19200.00</text>
<text class="ax" transform="translate(1167.3,164.8) scale(0.855,1)">19000.00</text>
<text class="ax" transform="translate(1167.3,198.3) scale(0.855,1)">18800.00</text>
<text class="ax" transform="translate(1167.3,231.9) scale(0.855,1)">18600.00</text>
<text class="ax" transform="translate(1167.3,265.4) scale(0.855,1)">18400.00</text>
<text class="ax" transform="translate(1167.3,299.0) scale(0.855,1)">18200.00</text>
<text class="ax" transform="translate(1167.3,332.6) scale(0.855,1)">18000.00</text>
<text class="ax" transform="translate(1167.3,366.1) scale(0.855,1)">17800.00</text>
<text class="ax" transform="translate(1167.3,399.6) scale(0.855,1)">17600.00</text>
<text class="ax" transform="translate(1167.3,433.2) scale(0.855,1)">17400.00</text>
<text class="ax" transform="translate(1167.3,466.8) scale(0.855,1)">17200.00</text>
<text class="ax" transform="translate(1167.3,500.3) scale(0.855,1)">17000.00</text>
<text class="ax" transform="translate(1167.3,533.9) scale(0.855,1)">16800.00</text>
<text class="ax" transform="translate(1167.3,567.4) scale(0.855,1)">16600.00</text>
<text class="ax" transform="translate(1166.8,604.1) scale(0.855,1)">80.00</text>
<text class="ax" transform="translate(1166.8,636.1) scale(0.855,1)">60.00</text>
<text class="ax" transform="translate(1166.8,668.6) scale(0.855,1)">40.00</text>
<text class="ax" transform="translate(1166.8,701.6) scale(0.855,1)">20.00</text>
<text class="ax" transform="translate(1166.8,715.6) scale(0.855,1)">300.00</text>
<rect x="1160" y="83.3" width="40" height="12.5" fill="#0a0a0a"/>
<text class="bx" transform="translate(1166.6,93.0) scale(0.95,1)">19434.55</text>
<rect x="1160" y="105.9" width="40" height="12" fill="#dc3a52"/>
<text class="bx" transform="translate(1166.6,115.3) scale(0.95,1)">19300.00</text>
<rect x="1160" y="175.3" width="40" height="12.4" fill="#dc3a52"/>
<text class="bx" transform="translate(1166.6,184.9) scale(0.95,1)">18887.60</text>
<rect x="1160" y="222.2" width="40" height="12.5" fill="#dc3a52"/>
<text class="bx" transform="translate(1166.6,231.8) scale(0.95,1)">18604.45</text>
<rect x="1160" y="471" width="40" height="11.6" fill="#2f62d8"/>
<text class="bx" transform="translate(1166.6,480.2) scale(0.95,1)">17120.15</text>
</svg></body></html>
